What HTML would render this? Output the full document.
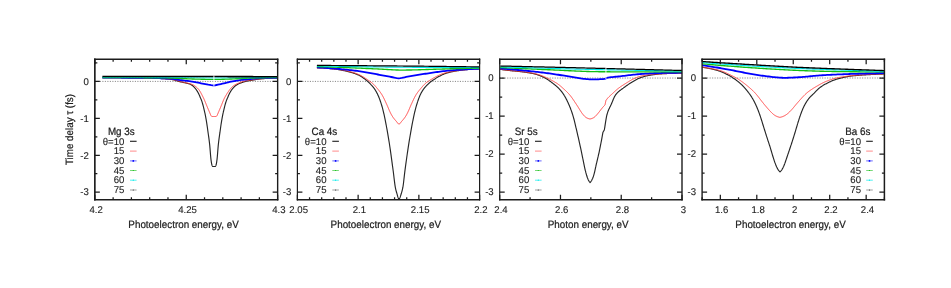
<!DOCTYPE html>
<html>
<head>
<meta charset="utf-8">
<title>Time delay vs energy</title>
<style>
html,body{margin:0;padding:0;background:#ffffff;}
body{width:951px;height:288px;overflow:hidden;font-family:"Liberation Sans",sans-serif;}
svg{display:block;position:absolute;left:0;top:0;will-change:opacity;}
svg text{text-rendering:geometricPrecision;stroke:#1c1c1c;stroke-width:0.12px;}
svg text.b{stroke-width:0.22px;}
</style>
</head>
<body>
<svg width="951" height="288" viewBox="0 0 951 288" font-family="'Liberation Sans', sans-serif" font-size="9.8" fill="#1c1c1c">
<defs>
<clipPath id="p1"><rect x="94.85" y="59.25" width="182.8" height="140.45"/></clipPath>
<clipPath id="p2"><rect x="297.4" y="59.25" width="182.2" height="140.45"/></clipPath>
<clipPath id="p3"><rect x="499.7" y="59.25" width="182.3" height="140.45"/></clipPath>
<clipPath id="p4"><rect x="702.1" y="59.25" width="182.3" height="140.45"/></clipPath>
</defs>
<line x1="94.85" y1="81.4" x2="277.65" y2="81.4" stroke="#7a7a7a" stroke-width="0.9" stroke-dasharray="1.1 1.4"/>
<path d="M102.4 77.7 L102.9 77.7 L103.4 77.7 L103.9 77.7 L104.4 77.7 L104.9 77.7 L105.4 77.7 L105.9 77.7 L106.4 77.7 L106.9 77.7 L107.4 77.7 L107.9 77.71 L108.4 77.71 L108.9 77.71 L109.4 77.71 L109.9 77.71 L110.4 77.71 L110.9 77.71 L111.4 77.71 L111.9 77.72 L112.4 77.72 L112.9 77.72 L113.4 77.72 L113.9 77.72 L114.4 77.72 L114.9 77.73 L115.4 77.73 L115.9 77.73 L116.4 77.73 L116.9 77.73 L117.4 77.74 L117.9 77.74 L118.4 77.74 L118.9 77.74 L119.4 77.75 L119.9 77.75 L120.4 77.75 L120.9 77.75 L121.4 77.76 L121.9 77.76 L122.4 77.76 L122.9 77.77 L123.4 77.77 L123.9 77.77 L124.4 77.78 L124.9 77.78 L125.4 77.78 L125.9 77.79 L126.4 77.79 L126.9 77.79 L127.4 77.8 L127.9 77.8 L128.4 77.8 L128.9 77.81 L129.4 77.81 L129.9 77.81 L130.4 77.82 L130.9 77.82 L131.4 77.83 L131.9 77.83 L132.4 77.83 L132.9 77.84 L133.4 77.84 L133.9 77.85 L134.4 77.85 L134.9 77.85 L135.4 77.86 L135.9 77.86 L136.4 77.87 L136.9 77.87 L137.4 77.88 L137.9 77.88 L138.4 77.89 L138.9 77.89 L139.4 77.89 L139.9 77.9 L140.4 77.9 L140.9 77.91 L141.4 77.92 L141.9 77.92 L142.4 77.93 L142.9 77.94 L143.4 77.94 L143.9 77.95 L144.4 77.96 L144.9 77.97 L145.4 77.98 L145.9 77.99 L146.4 78 L146.9 78.01 L147.4 78.02 L147.9 78.03 L148.4 78.04 L148.9 78.06 L149.4 78.07 L149.9 78.08 L150.4 78.1 L150.9 78.11 L151.4 78.12 L151.9 78.14 L152.4 78.15 L152.9 78.17 L153.4 78.18 L153.9 78.2 L154.4 78.21 L154.9 78.23 L155.4 78.25 L155.9 78.27 L156.4 78.29 L156.9 78.32 L157.4 78.34 L157.9 78.37 L158.4 78.39 L158.9 78.42 L159.4 78.45 L159.9 78.48 L160.4 78.51 L160.9 78.53 L161.4 78.56 L161.89 78.59 L162.39 78.62 L162.89 78.65 L163.39 78.68 L163.89 78.71 L164.39 78.74 L164.89 78.77 L165.39 78.81 L165.89 78.84 L166.39 78.88 L166.88 78.91 L167.38 78.95 L167.88 78.99 L168.38 79.04 L168.88 79.09 L169.37 79.14 L169.87 79.19 L170.37 79.26 L170.86 79.33 L171.36 79.41 L171.85 79.49 L172.34 79.59 L172.83 79.69 L173.32 79.8 L173.8 79.91 L174.29 80.03 L174.77 80.15 L175.25 80.29 L175.73 80.44 L176.21 80.59 L176.68 80.75 L177.15 80.92 L177.63 81.07 L178.11 81.21 L178.59 81.35 L179.07 81.47 L179.56 81.59 L180.04 81.71 L180.53 81.82 L181.02 81.93 L181.51 82.03 L182 82.14 L182.49 82.25 L182.97 82.36 L183.46 82.47 L183.95 82.59 L184.43 82.7 L184.92 82.81 L185.41 82.92 L185.9 83.03 L186.38 83.14 L186.87 83.25 L187.36 83.37 L187.84 83.49 L188.33 83.62 L188.81 83.76 L189.28 83.91 L189.75 84.07 L190.22 84.25 L190.68 84.45 L191.12 84.68 L191.55 84.93 L191.96 85.21 L192.36 85.51 L192.75 85.82 L193.12 86.15 L193.48 86.5 L193.84 86.85 L194.19 87.21 L194.53 87.57 L194.86 87.94 L195.19 88.32 L195.51 88.7 L195.83 89.09 L196.13 89.49 L196.42 89.9 L196.7 90.31 L196.97 90.73 L197.23 91.16 L197.48 91.59 L197.73 92.02 L197.98 92.46 L198.22 92.9 L198.45 93.34 L198.68 93.78 L198.9 94.23 L199.11 94.69 L199.31 95.14 L199.51 95.6 L199.7 96.06 L199.89 96.53 L200.08 96.99 L200.27 97.45 L200.47 97.91 L200.67 98.37 L200.88 98.82 L201.08 99.28 L201.28 99.74 L201.46 100.2 L201.63 100.67 L201.8 101.14 L201.96 101.62 L202.11 102.1 L202.26 102.57 L202.4 103.05 L202.54 103.53 L202.67 104.01 L202.81 104.5 L202.94 104.98 L203.07 105.46 L203.19 105.94 L203.32 106.43 L203.44 106.91 L203.57 107.4 L203.69 107.88 L203.81 108.37 L203.92 108.86 L204.04 109.34 L204.16 109.83 L204.27 110.31 L204.39 110.8 L204.5 111.29 L204.61 111.78 L204.72 112.27 L204.82 112.75 L204.93 113.24 L205.03 113.73 L205.13 114.22 L205.23 114.71 L205.33 115.2 L205.43 115.69 L205.52 116.18 L205.62 116.67 L205.71 117.17 L205.8 117.66 L205.89 118.15 L205.98 118.64 L206.07 119.13 L206.16 119.63 L206.25 120.12 L206.33 120.61 L206.42 121.1 L206.5 121.6 L206.58 122.09 L206.66 122.58 L206.73 123.08 L206.81 123.57 L206.88 124.07 L206.96 124.56 L207.03 125.06 L207.1 125.55 L207.17 126.05 L207.24 126.54 L207.31 127.04 L207.38 127.53 L207.45 128.03 L207.52 128.52 L207.59 129.02 L207.66 129.51 L207.72 130.01 L207.79 130.5 L207.86 131 L207.93 131.49 L208 131.99 L208.07 132.49 L208.14 132.98 L208.21 133.48 L208.28 133.97 L208.35 134.47 L208.42 134.96 L208.49 135.46 L208.56 135.95 L208.63 136.45 L208.7 136.94 L208.77 137.44 L208.84 137.93 L208.91 138.43 L208.97 138.92 L209.04 139.42 L209.1 139.91 L209.17 140.41 L209.23 140.91 L209.29 141.4 L209.35 141.9 L209.41 142.4 L209.47 142.89 L209.53 143.39 L209.58 143.89 L209.64 144.38 L209.69 144.88 L209.74 145.38 L209.79 145.88 L209.83 146.37 L209.88 146.87 L209.92 147.37 L209.96 147.87 L210.01 148.37 L210.05 148.86 L210.09 149.36 L210.13 149.86 L210.17 150.36 L210.21 150.86 L210.25 151.36 L210.29 151.86 L210.33 152.35 L210.37 152.85 L210.41 153.35 L210.45 153.85 L210.49 154.35 L210.53 154.85 L210.57 155.34 L210.62 155.84 L210.66 156.34 L210.71 156.84 L210.75 157.34 L210.8 157.83 L210.85 158.33 L210.91 158.83 L210.97 159.33 L211.03 159.82 L211.1 160.32 L211.17 160.81 L211.24 161.31 L211.31 161.8 L211.39 162.3 L211.47 162.79 L211.56 163.28 L211.65 163.77 L211.75 164.26 L211.87 164.74 L212.02 165.22 L212.21 165.67 L212.44 166.09 L212.7 166.5 L213.22 166.5 L213.74 166.5 L214.26 166.5 L214.78 166.5 L215.3 166.5 L215.56 166.09 L215.79 165.67 L215.98 165.21 L216.13 164.74 L216.25 164.26 L216.35 163.77 L216.44 163.28 L216.53 162.79 L216.61 162.29 L216.69 161.8 L216.76 161.3 L216.83 160.81 L216.9 160.31 L216.97 159.82 L217.03 159.32 L217.09 158.82 L217.15 158.33 L217.2 157.83 L217.25 157.33 L217.3 156.83 L217.34 156.33 L217.39 155.83 L217.43 155.34 L217.47 154.84 L217.51 154.34 L217.55 153.84 L217.59 153.34 L217.63 152.84 L217.67 152.34 L217.71 151.84 L217.75 151.35 L217.79 150.85 L217.83 150.35 L217.87 149.85 L217.91 149.35 L217.95 148.85 L218 148.35 L218.04 147.85 L218.08 147.36 L218.12 146.86 L218.17 146.36 L218.21 145.86 L218.26 145.36 L218.31 144.86 L218.36 144.37 L218.42 143.87 L218.47 143.37 L218.53 142.87 L218.59 142.38 L218.65 141.88 L218.71 141.38 L218.77 140.89 L218.83 140.39 L218.9 139.9 L218.96 139.4 L219.03 138.9 L219.1 138.41 L219.16 137.91 L219.23 137.42 L219.3 136.92 L219.37 136.42 L219.44 135.93 L219.51 135.43 L219.58 134.94 L219.65 134.44 L219.72 133.95 L219.79 133.45 L219.87 132.96 L219.93 132.46 L220 131.96 L220.07 131.47 L220.14 130.97 L220.21 130.48 L220.28 129.98 L220.35 129.49 L220.42 128.99 L220.48 128.5 L220.55 128 L220.62 127.5 L220.69 127.01 L220.76 126.51 L220.83 126.02 L220.9 125.52 L220.97 125.03 L221.05 124.53 L221.12 124.04 L221.19 123.54 L221.27 123.05 L221.35 122.55 L221.43 122.06 L221.51 121.56 L221.59 121.07 L221.67 120.58 L221.76 120.08 L221.85 119.59 L221.93 119.1 L222.02 118.61 L222.11 118.11 L222.2 117.62 L222.3 117.13 L222.39 116.64 L222.49 116.15 L222.58 115.66 L222.68 115.17 L222.78 114.67 L222.88 114.18 L222.98 113.69 L223.08 113.2 L223.19 112.72 L223.29 112.23 L223.4 111.74 L223.51 111.25 L223.62 110.76 L223.74 110.27 L223.85 109.79 L223.97 109.3 L224.09 108.81 L224.2 108.33 L224.32 107.84 L224.45 107.36 L224.57 106.87 L224.69 106.39 L224.82 105.9 L224.94 105.42 L225.07 104.93 L225.2 104.45 L225.34 103.97 L225.47 103.49 L225.61 103.01 L225.76 102.53 L225.91 102.05 L226.06 101.57 L226.22 101.1 L226.38 100.63 L226.56 100.16 L226.74 99.69 L226.94 99.23 L227.14 98.78 L227.35 98.32 L227.55 97.86 L227.75 97.4 L227.94 96.94 L228.13 96.48 L228.32 96.02 L228.51 95.55 L228.71 95.09 L228.91 94.64 L229.13 94.18 L229.35 93.74 L229.58 93.29 L229.81 92.85 L230.06 92.41 L230.3 91.98 L230.56 91.55 L230.82 91.12 L231.08 90.7 L231.36 90.28 L231.65 89.87 L231.95 89.47 L232.26 89.08 L232.58 88.69 L232.9 88.31 L233.23 87.94 L233.57 87.57 L233.92 87.21 L234.27 86.85 L234.63 86.51 L234.99 86.17 L235.37 85.84 L235.76 85.52 L236.15 85.21 L236.56 84.92 L236.98 84.65 L237.41 84.4 L237.85 84.17 L238.3 83.95 L238.76 83.75 L239.22 83.56 L239.69 83.38 L240.16 83.21 L240.63 83.03 L241.1 82.86 L241.57 82.7 L242.04 82.53 L242.51 82.36 L242.99 82.2 L243.46 82.04 L243.94 81.89 L244.42 81.75 L244.9 81.62 L245.38 81.49 L245.87 81.37 L246.36 81.26 L246.84 81.15 L247.33 81.05 L247.83 80.95 L248.32 80.85 L248.81 80.76 L249.3 80.67 L249.79 80.58 L250.29 80.5 L250.78 80.41 L251.27 80.32 L251.77 80.24 L252.26 80.16 L252.75 80.07 L253.24 79.99 L253.74 79.9 L254.23 79.82 L254.72 79.73 L255.22 79.65 L255.71 79.57 L256.21 79.49 L256.7 79.41 L257.19 79.33 L257.69 79.26 L258.18 79.19 L258.68 79.12 L259.18 79.06 L259.67 79 L260.17 78.94 L260.67 78.89 L261.17 78.83 L261.66 78.79 L262.16 78.74 L262.66 78.69 L263.16 78.65 L263.66 78.6 L264.16 78.56 L264.66 78.52 L265.15 78.49 L265.65 78.45 L266.15 78.42 L266.65 78.38 L267.15 78.35 L267.65 78.32 L268.15 78.29 L268.65 78.27 L269.15 78.24 L269.65 78.21 L270.15 78.19 L270.65 78.16 L271.15 78.14 L271.65 78.11 L272.15 78.09 L272.65 78.07 L273.15 78.04 L273.65 78.02 L274.15 78 L274.65 77.99 L275.15 77.97 L275.65 77.95 L276.15 77.94 L276.65 77.92 L277.15 77.91 L277.65 77.9" fill="none" stroke="#262626" stroke-width="1.15" stroke-linejoin="round" clip-path="url(#p1)" />
<path d="M102.4 77.7 L102.9 77.7 L103.4 77.7 L103.9 77.7 L104.4 77.7 L104.9 77.7 L105.4 77.7 L105.9 77.7 L106.4 77.7 L106.9 77.7 L107.4 77.7 L107.9 77.71 L108.4 77.71 L108.9 77.71 L109.4 77.71 L109.9 77.71 L110.4 77.71 L110.9 77.71 L111.4 77.71 L111.9 77.72 L112.4 77.72 L112.9 77.72 L113.4 77.72 L113.9 77.72 L114.4 77.72 L114.9 77.73 L115.4 77.73 L115.9 77.73 L116.4 77.73 L116.9 77.73 L117.4 77.74 L117.9 77.74 L118.4 77.74 L118.9 77.74 L119.4 77.75 L119.89 77.75 L120.39 77.75 L120.89 77.75 L121.39 77.76 L121.89 77.76 L122.39 77.76 L122.89 77.77 L123.39 77.77 L123.89 77.77 L124.39 77.78 L124.89 77.78 L125.39 77.78 L125.89 77.79 L126.39 77.79 L126.89 77.79 L127.39 77.8 L127.89 77.8 L128.39 77.8 L128.89 77.81 L129.39 77.81 L129.89 77.81 L130.39 77.82 L130.89 77.82 L131.39 77.83 L131.89 77.83 L132.39 77.83 L132.89 77.84 L133.39 77.84 L133.89 77.85 L134.39 77.85 L134.89 77.85 L135.39 77.86 L135.89 77.86 L136.39 77.87 L136.89 77.87 L137.39 77.88 L137.89 77.88 L138.39 77.89 L138.89 77.89 L139.39 77.89 L139.89 77.9 L140.39 77.9 L140.89 77.91 L141.39 77.92 L141.89 77.92 L142.39 77.93 L142.89 77.94 L143.39 77.94 L143.89 77.95 L144.39 77.96 L144.89 77.97 L145.39 77.98 L145.89 77.99 L146.39 78 L146.89 78.01 L147.39 78.02 L147.89 78.03 L148.38 78.04 L148.88 78.06 L149.38 78.07 L149.88 78.08 L150.38 78.1 L150.88 78.11 L151.38 78.12 L151.88 78.14 L152.38 78.15 L152.88 78.17 L153.38 78.18 L153.88 78.2 L154.38 78.21 L154.88 78.23 L155.38 78.25 L155.88 78.27 L156.38 78.29 L156.88 78.32 L157.38 78.34 L157.88 78.37 L158.38 78.39 L158.87 78.42 L159.37 78.45 L159.87 78.48 L160.37 78.5 L160.87 78.53 L161.37 78.56 L161.87 78.59 L162.37 78.62 L162.87 78.65 L163.37 78.68 L163.86 78.71 L164.36 78.74 L164.86 78.78 L165.36 78.81 L165.86 78.84 L166.36 78.88 L166.86 78.92 L167.36 78.96 L167.85 79 L168.35 79.04 L168.85 79.09 L169.35 79.14 L169.84 79.19 L170.34 79.25 L170.84 79.31 L171.33 79.38 L171.82 79.46 L172.32 79.55 L172.81 79.64 L173.3 79.73 L173.79 79.83 L174.28 79.93 L174.77 80.04 L175.25 80.15 L175.74 80.27 L176.22 80.4 L176.7 80.53 L177.18 80.67 L177.66 80.81 L178.14 80.95 L178.62 81.09 L179.11 81.22 L179.59 81.34 L180.07 81.46 L180.56 81.58 L181.05 81.69 L181.53 81.8 L182.02 81.92 L182.51 82.03 L183 82.14 L183.48 82.25 L183.97 82.36 L184.46 82.47 L184.95 82.59 L185.43 82.7 L185.92 82.81 L186.41 82.92 L186.9 83.03 L187.38 83.13 L187.87 83.24 L188.36 83.35 L188.85 83.47 L189.33 83.59 L189.81 83.72 L190.29 83.85 L190.77 83.99 L191.25 84.15 L191.72 84.32 L192.18 84.5 L192.64 84.7 L193.09 84.91 L193.53 85.14 L193.97 85.39 L194.39 85.65 L194.81 85.93 L195.22 86.21 L195.62 86.51 L196.01 86.82 L196.4 87.14 L196.77 87.46 L197.15 87.8 L197.51 88.14 L197.86 88.49 L198.2 88.86 L198.53 89.23 L198.84 89.62 L199.14 90.02 L199.43 90.43 L199.7 90.85 L199.97 91.27 L200.22 91.7 L200.48 92.13 L200.72 92.57 L200.96 93.01 L201.2 93.45 L201.43 93.89 L201.66 94.33 L201.89 94.78 L202.12 95.22 L202.34 95.67 L202.56 96.12 L202.79 96.56 L203.01 97.01 L203.23 97.46 L203.45 97.91 L203.67 98.36 L203.88 98.81 L204.09 99.26 L204.29 99.72 L204.49 100.18 L204.69 100.64 L204.88 101.1 L205.07 101.56 L205.26 102.02 L205.45 102.49 L205.64 102.95 L205.83 103.41 L206.01 103.88 L206.2 104.34 L206.39 104.8 L206.58 105.27 L206.77 105.73 L206.96 106.19 L207.16 106.65 L207.35 107.11 L207.54 107.57 L207.74 108.03 L207.93 108.49 L208.13 108.95 L208.32 109.41 L208.52 109.87 L208.71 110.33 L208.91 110.79 L209.1 111.25 L209.3 111.71 L209.5 112.17 L209.69 112.63 L209.89 113.09 L210.08 113.55 L210.27 114.02 L210.46 114.48 L210.66 114.93 L210.89 115.37 L211.16 115.78 L211.46 116.15 L211.8 116.5 L212.29 116.5 L212.78 116.5 L213.27 116.5 L213.76 116.5 L214.24 116.5 L214.73 116.5 L215.22 116.5 L215.71 116.5 L216.2 116.5 L216.54 116.15 L216.84 115.78 L217.11 115.37 L217.34 114.93 L217.54 114.48 L217.73 114.01 L217.92 113.55 L218.11 113.09 L218.31 112.63 L218.5 112.17 L218.7 111.71 L218.9 111.25 L219.09 110.79 L219.29 110.33 L219.49 109.87 L219.68 109.41 L219.87 108.95 L220.07 108.49 L220.26 108.03 L220.46 107.57 L220.65 107.1 L220.85 106.64 L221.04 106.18 L221.23 105.72 L221.42 105.26 L221.61 104.79 L221.8 104.33 L221.98 103.87 L222.17 103.4 L222.35 102.94 L222.54 102.47 L222.73 102.01 L222.92 101.55 L223.11 101.08 L223.3 100.62 L223.5 100.16 L223.7 99.7 L223.91 99.25 L224.12 98.8 L224.34 98.35 L224.56 97.9 L224.79 97.46 L225.03 97.02 L225.27 96.58 L225.51 96.14 L225.76 95.71 L226.01 95.27 L226.26 94.84 L226.52 94.41 L226.79 93.99 L227.05 93.57 L227.32 93.14 L227.6 92.73 L227.87 92.31 L228.15 91.9 L228.44 91.48 L228.73 91.08 L229.02 90.67 L229.31 90.26 L229.61 89.86 L229.91 89.46 L230.21 89.06 L230.52 88.67 L230.83 88.28 L231.16 87.9 L231.5 87.53 L231.85 87.18 L232.22 86.84 L232.6 86.52 L232.99 86.21 L233.39 85.91 L233.8 85.62 L234.21 85.35 L234.64 85.08 L235.07 84.83 L235.5 84.58 L235.94 84.35 L236.39 84.12 L236.84 83.91 L237.3 83.7 L237.76 83.51 L238.22 83.32 L238.68 83.13 L239.15 82.94 L239.61 82.75 L240.07 82.55 L240.53 82.36 L240.99 82.17 L241.46 81.98 L241.92 81.8 L242.4 81.64 L242.88 81.5 L243.36 81.37 L243.84 81.26 L244.33 81.15 L244.82 81.05 L245.31 80.95 L245.8 80.86 L246.3 80.77 L246.79 80.69 L247.28 80.61 L247.78 80.53 L248.27 80.46 L248.77 80.38 L249.26 80.31 L249.76 80.24 L250.25 80.16 L250.75 80.09 L251.24 80.02 L251.74 79.95 L252.23 79.88 L252.73 79.81 L253.22 79.74 L253.72 79.68 L254.22 79.61 L254.71 79.55 L255.21 79.49 L255.7 79.43 L256.2 79.37 L256.7 79.31 L257.19 79.25 L257.69 79.19 L258.19 79.14 L258.69 79.09 L259.18 79.03 L259.68 78.98 L260.18 78.93 L260.68 78.88 L261.17 78.84 L261.67 78.79 L262.17 78.74 L262.67 78.7 L263.17 78.66 L263.66 78.61 L264.16 78.57 L264.66 78.53 L265.16 78.49 L265.66 78.45 L266.16 78.42 L266.66 78.38 L267.16 78.35 L267.66 78.32 L268.16 78.29 L268.65 78.26 L269.15 78.24 L269.65 78.21 L270.15 78.19 L270.65 78.16 L271.15 78.14 L271.65 78.11 L272.15 78.09 L272.65 78.07 L273.15 78.04 L273.65 78.02 L274.15 78 L274.65 77.99 L275.15 77.97 L275.65 77.95 L276.15 77.94 L276.65 77.92 L277.15 77.91 L277.65 77.9" fill="none" stroke="#ff3b3b" stroke-width="0.95" stroke-linejoin="round" clip-path="url(#p1)" />
<path d="M102.4 77.7 L103.9 77.7 L105.4 77.7 L106.9 77.7 L108.4 77.7 L109.89 77.7 L111.39 77.71 L112.89 77.71 L114.39 77.71 L115.89 77.71 L117.39 77.72 L118.89 77.72 L120.39 77.72 L121.89 77.73 L123.38 77.73 L124.88 77.74 L126.38 77.74 L127.88 77.75 L129.38 77.75 L130.88 77.76 L132.38 77.77 L133.88 77.77 L135.38 77.78 L136.87 77.79 L138.37 77.79 L139.87 77.8 L141.37 77.81 L142.87 77.82 L144.37 77.84 L145.87 77.86 L147.37 77.88 L148.86 77.9 L150.36 77.93 L151.86 77.96 L153.36 77.99 L154.86 78.03 L156.36 78.08 L157.85 78.13 L159.35 78.19 L160.85 78.25 L162.35 78.31 L163.84 78.38 L165.34 78.45 L166.84 78.52 L168.34 78.6 L169.83 78.69 L171.33 78.81 L172.82 78.95 L174.3 79.13 L175.78 79.35 L177.26 79.58 L178.74 79.82 L180.22 80.04 L181.71 80.24 L183.2 80.42 L184.69 80.59 L186.17 80.77 L187.66 80.94 L189.15 81.13 L190.63 81.33 L192.12 81.55 L193.59 81.8 L195.07 82.07 L196.54 82.35 L198.01 82.65 L199.48 82.96 L200.94 83.27 L202.41 83.57 L203.88 83.87 L205.35 84.16 L206.82 84.43 L208.3 84.69 L209.78 84.91 L211.26 85.11 L212.75 85.27 L213 85.3 L214.5 85.3 L215 85.3 L216.47 85 L217.94 84.7 L219.41 84.39 L220.87 84.07 L222.34 83.73 L223.8 83.38 L225.25 83.02 L226.71 82.66 L228.17 82.3 L229.63 81.96 L231.1 81.63 L232.57 81.33 L234.04 81.04 L235.52 80.78 L237 80.54 L238.48 80.32 L239.97 80.11 L241.46 79.93 L242.95 79.77 L244.45 79.62 L245.94 79.48 L247.44 79.33 L248.93 79.17 L250.42 79 L251.91 78.84 L253.41 78.68 L254.9 78.53 L256.39 78.39 L257.89 78.27 L259.39 78.16 L260.89 78.08 L262.39 78.01 L263.89 77.97 L265.39 77.93 L266.89 77.9 L268.39 77.88 L269.89 77.86 L271.39 77.84 L272.9 77.83 L274.4 77.81 L275.9 77.81 L277.4 77.8 L277.65 77.8" fill="none" stroke="#0000ff" stroke-width="1.8" stroke-linejoin="round" clip-path="url(#p1)" />
<path d="M102.4 77.6 L103.9 77.6 L105.4 77.6 L106.9 77.6 L108.4 77.6 L109.9 77.6 L111.4 77.61 L112.9 77.61 L114.4 77.61 L115.9 77.61 L117.41 77.61 L118.91 77.62 L120.41 77.62 L121.91 77.62 L123.41 77.63 L124.91 77.63 L126.41 77.63 L127.91 77.64 L129.41 77.64 L130.91 77.65 L132.41 77.65 L133.91 77.66 L135.41 77.66 L136.91 77.67 L138.41 77.68 L139.91 77.68 L141.41 77.69 L142.91 77.7 L144.41 77.71 L145.92 77.71 L147.42 77.72 L148.92 77.73 L150.42 77.74 L151.92 77.75 L153.42 77.76 L154.92 77.77 L156.42 77.78 L157.92 77.79 L159.42 77.8 L160.92 77.82 L162.42 77.84 L163.92 77.86 L165.42 77.89 L166.92 77.93 L168.42 77.97 L169.92 78.01 L171.42 78.06 L172.92 78.1 L174.42 78.16 L175.92 78.22 L177.42 78.29 L178.92 78.36 L180.42 78.44 L181.91 78.52 L183.41 78.59 L184.91 78.67 L186.41 78.74 L187.91 78.81 L189.41 78.87 L190.91 78.93 L192.41 78.98 L193.91 79.03 L195.41 79.07 L196.91 79.11 L198.41 79.16 L199.91 79.19 L201.41 79.23 L202.91 79.26 L204.41 79.29 L205.91 79.31 L207.41 79.33 L208.91 79.35 L210.41 79.37 L211.91 79.38 L213.41 79.39 L214.91 79.38 L216.41 79.37 L217.91 79.35 L219.41 79.33 L220.91 79.3 L222.41 79.26 L223.91 79.22 L225.41 79.18 L226.91 79.14 L228.41 79.09 L229.91 79.04 L231.41 78.98 L232.91 78.92 L234.41 78.85 L235.91 78.79 L237.41 78.72 L238.91 78.65 L240.4 78.58 L241.9 78.5 L243.4 78.42 L244.9 78.35 L246.4 78.27 L247.9 78.2 L249.4 78.13 L250.9 78.07 L252.4 78.02 L253.9 77.97 L255.4 77.92 L256.9 77.88 L258.4 77.84 L259.9 77.8 L261.4 77.77 L262.9 77.74 L264.4 77.71 L265.9 77.69 L267.4 77.67 L268.9 77.66 L270.4 77.64 L271.9 77.63 L273.4 77.62 L274.9 77.61 L276.4 77.6 L277.65 77.6" fill="none" stroke="#14be14" stroke-width="1.35" stroke-linejoin="round" clip-path="url(#p1)" />
<path d="M102.4 77.3 L103.9 77.3 L105.4 77.3 L106.9 77.3 L108.4 77.3 L109.9 77.3 L111.4 77.3 L112.9 77.3 L114.4 77.31 L115.9 77.31 L117.4 77.31 L118.9 77.31 L120.4 77.31 L121.9 77.31 L123.4 77.32 L124.9 77.32 L126.4 77.32 L127.9 77.32 L129.4 77.33 L130.9 77.33 L132.4 77.33 L133.9 77.34 L135.4 77.34 L136.9 77.34 L138.4 77.35 L139.9 77.35 L141.4 77.36 L142.9 77.36 L144.4 77.36 L145.9 77.37 L147.4 77.37 L148.9 77.38 L150.4 77.38 L151.9 77.39 L153.4 77.39 L154.9 77.4 L156.4 77.4 L157.9 77.41 L159.4 77.41 L160.9 77.42 L162.4 77.43 L163.9 77.43 L165.4 77.44 L166.9 77.44 L168.4 77.45 L169.9 77.46 L171.4 77.46 L172.9 77.47 L174.4 77.47 L175.9 77.48 L177.4 77.49 L178.9 77.5 L180.4 77.5 L181.9 77.52 L183.4 77.53 L184.9 77.54 L186.4 77.56 L187.9 77.58 L189.4 77.6 L190.9 77.62 L192.4 77.64 L193.9 77.67 L195.4 77.69 L196.9 77.72 L198.4 77.74 L199.9 77.77 L201.4 77.79 L202.9 77.81 L204.4 77.83 L205.9 77.85 L207.4 77.86 L208.9 77.87 L210.4 77.88 L211.9 77.89 L213.4 77.9 L214.9 77.9 L216.4 77.89 L217.9 77.89 L219.4 77.88 L220.9 77.88 L222.4 77.87 L223.9 77.86 L225.4 77.85 L226.9 77.83 L228.4 77.82 L229.9 77.81 L231.4 77.79 L232.9 77.77 L234.4 77.76 L235.9 77.74 L237.4 77.73 L238.9 77.71 L240.4 77.69 L241.9 77.68 L243.4 77.66 L244.9 77.65 L246.4 77.63 L247.9 77.62 L249.4 77.61 L250.9 77.59 L252.4 77.58 L253.9 77.57 L255.4 77.56 L256.9 77.55 L258.4 77.54 L259.9 77.53 L261.4 77.51 L262.9 77.5 L264.4 77.49 L265.9 77.48 L267.4 77.47 L268.9 77.46 L270.4 77.45 L271.9 77.44 L273.4 77.43 L274.9 77.42 L276.4 77.41 L277.65 77.4" fill="none" stroke="#00e8ee" stroke-width="0.9" stroke-linejoin="round" clip-path="url(#p1)" />
<path d="M102.4 76.5 L103.9 76.5 L105.4 76.5 L106.9 76.5 L108.4 76.5 L109.9 76.5 L111.4 76.5 L112.9 76.5 L114.4 76.5 L115.9 76.5 L117.4 76.5 L118.9 76.5 L120.4 76.5 L121.9 76.5 L123.4 76.5 L124.9 76.5 L126.4 76.5 L127.9 76.5 L129.4 76.5 L130.9 76.5 L132.4 76.5 L133.9 76.5 L135.4 76.5 L136.9 76.51 L138.4 76.51 L139.9 76.51 L141.4 76.51 L142.9 76.51 L144.4 76.51 L145.9 76.51 L147.4 76.51 L148.9 76.51 L150.4 76.51 L151.9 76.51 L153.4 76.51 L154.9 76.51 L156.4 76.51 L157.9 76.51 L159.4 76.51 L160.9 76.51 L162.4 76.51 L163.9 76.52 L165.4 76.52 L166.9 76.52 L168.4 76.52 L169.9 76.52 L171.4 76.52 L172.9 76.52 L174.4 76.52 L175.9 76.52 L177.4 76.52 L178.9 76.52 L180.4 76.52 L181.9 76.53 L183.4 76.53 L184.9 76.53 L186.4 76.53 L187.9 76.53 L189.4 76.53 L190.9 76.53 L192.4 76.53 L193.9 76.53 L195.4 76.54 L196.9 76.54 L198.4 76.54 L199.9 76.54 L201.4 76.54 L202.9 76.54 L204.4 76.54 L205.9 76.54 L207.4 76.54 L208.9 76.55 L210.4 76.55 L211.9 76.55 L213.4 76.55 L214.9 76.55 L216.4 76.55 L217.9 76.55 L219.4 76.56 L220.9 76.56 L222.4 76.56 L223.9 76.57 L225.4 76.57 L226.9 76.57 L228.4 76.58 L229.9 76.58 L231.4 76.59 L232.9 76.59 L234.4 76.6 L235.9 76.6 L237.4 76.61 L238.9 76.61 L240.4 76.62 L241.9 76.62 L243.4 76.63 L244.9 76.64 L246.4 76.64 L247.9 76.65 L249.4 76.66 L250.9 76.66 L252.4 76.67 L253.9 76.68 L255.4 76.69 L256.9 76.69 L258.4 76.7 L259.9 76.71 L261.4 76.72 L262.9 76.72 L264.4 76.73 L265.9 76.74 L267.4 76.75 L268.9 76.75 L270.4 76.76 L271.9 76.77 L273.4 76.78 L274.9 76.79 L276.4 76.79 L277.65 76.8" fill="none" stroke="#000000" stroke-width="1.6" stroke-linejoin="round" clip-path="url(#p1)" />
<line x1="213.9" y1="75.5" x2="213.9" y2="85.9" stroke="#fff" stroke-width="1.2" stroke-opacity="0.72"/>
<path d="M94.85 199.7 v-5 M94.85 59.25 v5 M113.13 199.7 v-2.5 M113.13 59.25 v2.5 M131.41 199.7 v-2.5 M131.41 59.25 v2.5 M149.69 199.7 v-2.5 M149.69 59.25 v2.5 M167.97 199.7 v-2.5 M167.97 59.25 v2.5 M186.25 199.7 v-5 M186.25 59.25 v5 M204.53 199.7 v-2.5 M204.53 59.25 v2.5 M222.81 199.7 v-2.5 M222.81 59.25 v2.5 M241.09 199.7 v-2.5 M241.09 59.25 v2.5 M259.37 199.7 v-2.5 M259.37 59.25 v2.5 M277.65 199.7 v-5 M277.65 59.25 v5 M94.85 192.19 h5 M277.65 192.19 h-5 M94.85 173.73 h2.5 M277.65 173.73 h-2.5 M94.85 155.26 h5 M277.65 155.26 h-5 M94.85 136.8 h2.5 M277.65 136.8 h-2.5 M94.85 118.33 h5 M277.65 118.33 h-5 M94.85 99.87 h2.5 M277.65 99.87 h-2.5 M94.85 81.4 h5 M277.65 81.4 h-5 M94.85 62.94 h2.5 M277.65 62.94 h-2.5" stroke="#1c1c1c" stroke-width="1.25" fill="none"/>
<path d="M94.02 59.25 H278.35" stroke="#1c1c1c" stroke-width="1.45" fill="none"/>
<path d="M94.02 199.7 H278.35" stroke="#1c1c1c" stroke-width="1.65" fill="none"/>
<path d="M94.85 58.55 V200.5" stroke="#1c1c1c" stroke-width="1.65" fill="none"/>
<path d="M277.65 58.55 V200.5" stroke="#1c1c1c" stroke-width="1.4" fill="none"/>
<text transform="translate(88.85 84.65) scale(0.98 1)" text-anchor="end">0</text>
<text transform="translate(88.85 121.58) scale(0.98 1)" text-anchor="end">-1</text>
<text transform="translate(88.85 158.51) scale(0.98 1)" text-anchor="end">-2</text>
<text transform="translate(88.85 195.44) scale(0.98 1)" text-anchor="end">-3</text>
<text transform="translate(96.15 213.1) scale(0.98 1)" text-anchor="middle">4.2</text>
<text transform="translate(187.55 213.1) scale(0.98 1)" text-anchor="middle">4.25</text>
<text transform="translate(278.95 213.1) scale(0.98 1)" text-anchor="middle">4.3</text>
<text transform="translate(183.55 227.5) scale(0.93 1)" text-anchor="middle" class="b" font-size="10.6">Photoelectron energy, eV</text>
<text transform="translate(121.3 135.3) scale(0.93 1)" text-anchor="middle" class="b" font-size="10.6">Mg 3s</text>
<text transform="translate(124.4 144.5) scale(0.98 1)" text-anchor="end">θ=10</text>
<line x1="130" y1="141.3" x2="136.6" y2="141.3" stroke="#262626" stroke-width="1.15"/>
<text transform="translate(124.4 154.3) scale(0.98 1)" text-anchor="end">15</text>
<line x1="130" y1="151.1" x2="136.6" y2="151.1" stroke="#ff8a8a" stroke-width="1"/>
<text transform="translate(124.4 164.1) scale(0.98 1)" text-anchor="end">30</text>
<line x1="130" y1="160.9" x2="136.6" y2="160.9" stroke="#5a5aff" stroke-width="0.9"/>
<circle cx="133.3" cy="160.9" r="0.9" fill="#0000ff"/>
<text transform="translate(124.4 173.7) scale(0.98 1)" text-anchor="end">45</text>
<line x1="130" y1="170.5" x2="136.6" y2="170.5" stroke="#40c840" stroke-width="0.7"/>
<circle cx="133.3" cy="170.5" r="0.6" fill="#14be14"/>
<text transform="translate(124.4 183.4) scale(0.98 1)" text-anchor="end">60</text>
<line x1="130" y1="180.2" x2="136.6" y2="180.2" stroke="#40f0f0" stroke-width="0.9"/>
<circle cx="133.3" cy="180.2" r="0.6" fill="#00e8e8"/>
<text transform="translate(124.4 193.2) scale(0.98 1)" text-anchor="end">75</text>
<line x1="130" y1="190" x2="136.6" y2="190" stroke="#777" stroke-width="0.7"/>
<circle cx="133.3" cy="190" r="0.6" fill="#333"/>
<line x1="297.4" y1="81.4" x2="479.6" y2="81.4" stroke="#7a7a7a" stroke-width="0.9" stroke-dasharray="1.1 1.4"/>
<path d="M316.9 67.8 L317.4 67.81 L317.9 67.81 L318.4 67.82 L318.9 67.83 L319.4 67.84 L319.9 67.86 L320.4 67.88 L320.9 67.9 L321.4 67.92 L321.9 67.95 L322.4 67.97 L322.9 68 L323.4 68.03 L323.9 68.07 L324.4 68.1 L324.9 68.14 L325.39 68.18 L325.89 68.22 L326.39 68.26 L326.89 68.3 L327.39 68.35 L327.89 68.39 L328.38 68.44 L328.88 68.49 L329.38 68.54 L329.88 68.59 L330.37 68.64 L330.87 68.7 L331.37 68.75 L331.87 68.81 L332.36 68.86 L332.86 68.92 L333.36 68.97 L333.86 69.03 L334.35 69.09 L334.85 69.15 L335.35 69.2 L335.84 69.26 L336.34 69.32 L336.84 69.38 L337.33 69.45 L337.83 69.51 L338.32 69.58 L338.82 69.66 L339.31 69.74 L339.81 69.82 L340.3 69.9 L340.79 69.99 L341.28 70.09 L341.77 70.18 L342.26 70.28 L342.75 70.38 L343.24 70.49 L343.73 70.59 L344.22 70.7 L344.71 70.81 L345.19 70.93 L345.68 71.04 L346.17 71.16 L346.65 71.27 L347.14 71.39 L347.63 71.51 L348.11 71.63 L348.6 71.75 L349.08 71.88 L349.57 72 L350.05 72.13 L350.53 72.26 L351.02 72.39 L351.5 72.53 L351.98 72.67 L352.46 72.81 L352.94 72.95 L353.41 73.1 L353.89 73.26 L354.36 73.41 L354.84 73.58 L355.31 73.74 L355.78 73.92 L356.25 74.09 L356.71 74.28 L357.17 74.46 L357.64 74.66 L358.09 74.86 L358.55 75.07 L358.99 75.29 L359.44 75.52 L359.88 75.76 L360.31 76 L360.74 76.26 L361.17 76.52 L361.59 76.79 L362.01 77.06 L362.43 77.34 L362.84 77.63 L363.25 77.92 L363.65 78.21 L364.05 78.51 L364.45 78.81 L364.85 79.11 L365.25 79.42 L365.64 79.72 L366.03 80.03 L366.42 80.35 L366.81 80.66 L367.2 80.98 L367.58 81.3 L367.96 81.63 L368.33 81.96 L368.7 82.3 L369.06 82.65 L369.41 83 L369.77 83.35 L370.12 83.71 L370.46 84.07 L370.81 84.43 L371.15 84.8 L371.5 85.16 L371.84 85.53 L372.17 85.9 L372.5 86.28 L372.82 86.66 L373.14 87.04 L373.45 87.44 L373.75 87.83 L374.05 88.24 L374.34 88.64 L374.62 89.06 L374.9 89.47 L375.17 89.89 L375.43 90.32 L375.69 90.75 L375.94 91.18 L376.19 91.61 L376.44 92.05 L376.67 92.49 L376.91 92.93 L377.14 93.38 L377.36 93.82 L377.58 94.27 L377.79 94.73 L378 95.18 L378.21 95.64 L378.41 96.09 L378.6 96.55 L378.8 97.02 L378.98 97.48 L379.17 97.95 L379.35 98.41 L379.52 98.88 L379.7 99.35 L379.87 99.82 L380.04 100.29 L380.2 100.76 L380.37 101.24 L380.53 101.71 L380.69 102.18 L380.85 102.66 L381 103.13 L381.16 103.61 L381.31 104.09 L381.46 104.56 L381.61 105.04 L381.75 105.52 L381.9 106 L382.03 106.48 L382.17 106.96 L382.31 107.44 L382.44 107.92 L382.57 108.41 L382.69 108.89 L382.82 109.38 L382.94 109.86 L383.06 110.35 L383.18 110.83 L383.3 111.32 L383.42 111.8 L383.53 112.29 L383.65 112.78 L383.76 113.27 L383.87 113.75 L383.98 114.24 L384.09 114.73 L384.2 115.22 L384.3 115.71 L384.41 116.2 L384.51 116.68 L384.62 117.17 L384.72 117.66 L384.82 118.15 L384.93 118.64 L385.03 119.13 L385.13 119.62 L385.23 120.11 L385.32 120.6 L385.42 121.1 L385.52 121.59 L385.61 122.08 L385.71 122.57 L385.81 123.06 L385.9 123.55 L385.99 124.04 L386.09 124.53 L386.18 125.02 L386.27 125.52 L386.36 126.01 L386.45 126.5 L386.55 126.99 L386.64 127.48 L386.73 127.98 L386.81 128.47 L386.9 128.96 L386.99 129.45 L387.08 129.95 L387.17 130.44 L387.25 130.93 L387.34 131.42 L387.43 131.92 L387.51 132.41 L387.6 132.9 L387.69 133.4 L387.77 133.89 L387.86 134.38 L387.94 134.87 L388.02 135.37 L388.11 135.86 L388.19 136.35 L388.27 136.85 L388.36 137.34 L388.44 137.83 L388.52 138.33 L388.6 138.82 L388.69 139.31 L388.77 139.81 L388.85 140.3 L388.93 140.8 L389.01 141.29 L389.09 141.78 L389.17 142.28 L389.24 142.77 L389.32 143.27 L389.4 143.76 L389.47 144.25 L389.55 144.75 L389.62 145.24 L389.7 145.74 L389.77 146.23 L389.85 146.73 L389.92 147.22 L389.99 147.72 L390.07 148.21 L390.14 148.71 L390.21 149.2 L390.28 149.7 L390.35 150.19 L390.42 150.69 L390.49 151.18 L390.56 151.68 L390.63 152.17 L390.7 152.67 L390.77 153.17 L390.84 153.66 L390.91 154.16 L390.98 154.65 L391.05 155.15 L391.12 155.64 L391.19 156.14 L391.25 156.63 L391.32 157.13 L391.39 157.63 L391.46 158.12 L391.53 158.62 L391.59 159.11 L391.66 159.61 L391.73 160.1 L391.8 160.6 L391.86 161.1 L391.93 161.59 L392 162.09 L392.06 162.58 L392.13 163.08 L392.2 163.57 L392.26 164.07 L392.33 164.57 L392.4 165.06 L392.46 165.56 L392.53 166.05 L392.6 166.55 L392.67 167.04 L392.73 167.54 L392.8 168.04 L392.87 168.53 L392.93 169.03 L393 169.52 L393.07 170.02 L393.13 170.52 L393.2 171.01 L393.27 171.51 L393.33 172 L393.39 172.5 L393.46 173 L393.52 173.49 L393.58 173.99 L393.64 174.49 L393.7 174.98 L393.76 175.48 L393.82 175.98 L393.88 176.47 L393.94 176.97 L393.99 177.47 L394.05 177.96 L394.11 178.46 L394.17 178.96 L394.23 179.45 L394.29 179.95 L394.35 180.45 L394.41 180.94 L394.47 181.44 L394.53 181.94 L394.59 182.43 L394.66 182.93 L394.72 183.42 L394.79 183.92 L394.86 184.42 L394.93 184.91 L395 185.41 L395.08 185.9 L395.16 186.39 L395.24 186.89 L395.33 187.38 L395.43 187.87 L395.53 188.36 L395.63 188.85 L395.75 189.34 L395.86 189.82 L395.98 190.31 L396.11 190.79 L396.25 191.27 L396.38 191.75 L396.52 192.24 L396.66 192.72 L396.8 193.2 L396.94 193.68 L397.08 194.16 L397.21 194.64 L397.35 195.12 L397.48 195.6 L397.62 196.08 L397.76 196.56 L397.91 197.04 L398.07 197.51 L398.26 197.96 L398.48 198.39 L398.73 198.8 L399 199.2 L399.29 198.82 L399.56 198.42 L399.8 198 L400 197.56 L400.18 197.1 L400.35 196.63 L400.5 196.15 L400.65 195.67 L400.79 195.2 L400.93 194.72 L401.08 194.24 L401.22 193.76 L401.37 193.28 L401.51 192.8 L401.66 192.32 L401.8 191.85 L401.94 191.37 L402.07 190.88 L402.2 190.4 L402.32 189.92 L402.44 189.43 L402.55 188.94 L402.65 188.46 L402.75 187.97 L402.85 187.48 L402.94 186.98 L403.02 186.49 L403.1 186 L403.17 185.5 L403.24 185.01 L403.31 184.51 L403.37 184.02 L403.44 183.52 L403.5 183.03 L403.56 182.53 L403.62 182.03 L403.68 181.54 L403.73 181.04 L403.79 180.54 L403.85 180.05 L403.9 179.55 L403.96 179.05 L404.01 178.56 L404.07 178.06 L404.13 177.56 L404.18 177.07 L404.24 176.57 L404.29 176.07 L404.35 175.58 L404.4 175.08 L404.46 174.58 L404.52 174.09 L404.58 173.59 L404.64 173.1 L404.7 172.6 L404.76 172.1 L404.82 171.61 L404.89 171.11 L404.95 170.62 L405.02 170.12 L405.08 169.63 L405.15 169.13 L405.22 168.64 L405.28 168.14 L405.35 167.64 L405.42 167.15 L405.49 166.65 L405.55 166.16 L405.62 165.66 L405.69 165.17 L405.75 164.67 L405.82 164.18 L405.89 163.68 L405.96 163.19 L406.03 162.69 L406.09 162.2 L406.16 161.7 L406.23 161.21 L406.3 160.71 L406.37 160.22 L406.44 159.72 L406.51 159.23 L406.58 158.73 L406.64 158.24 L406.71 157.74 L406.78 157.25 L406.85 156.75 L406.92 156.26 L406.99 155.76 L407.07 155.27 L407.14 154.77 L407.21 154.28 L407.28 153.78 L407.35 153.29 L407.42 152.8 L407.49 152.3 L407.57 151.81 L407.64 151.31 L407.71 150.82 L407.79 150.32 L407.86 149.83 L407.93 149.33 L408.01 148.84 L408.08 148.35 L408.16 147.85 L408.23 147.36 L408.31 146.86 L408.38 146.37 L408.46 145.88 L408.54 145.38 L408.61 144.89 L408.69 144.39 L408.77 143.9 L408.85 143.41 L408.93 142.91 L409 142.42 L409.08 141.93 L409.16 141.43 L409.25 140.94 L409.33 140.45 L409.41 139.95 L409.49 139.46 L409.57 138.97 L409.66 138.48 L409.74 137.98 L409.82 137.49 L409.9 137 L409.99 136.5 L410.07 136.01 L410.16 135.52 L410.24 135.03 L410.33 134.53 L410.41 134.04 L410.5 133.55 L410.58 133.06 L410.67 132.56 L410.75 132.07 L410.84 131.58 L410.93 131.09 L411.01 130.59 L411.1 130.1 L411.19 129.61 L411.28 129.12 L411.37 128.63 L411.45 128.14 L411.54 127.64 L411.63 127.15 L411.72 126.66 L411.81 126.17 L411.91 125.68 L412 125.19 L412.09 124.69 L412.18 124.2 L412.28 123.71 L412.37 123.22 L412.46 122.73 L412.56 122.24 L412.65 121.75 L412.75 121.26 L412.85 120.77 L412.95 120.28 L413.04 119.79 L413.14 119.3 L413.24 118.81 L413.34 118.32 L413.45 117.83 L413.55 117.34 L413.65 116.85 L413.76 116.36 L413.86 115.88 L413.97 115.39 L414.07 114.9 L414.18 114.41 L414.29 113.92 L414.4 113.44 L414.51 112.95 L414.63 112.46 L414.74 111.98 L414.86 111.49 L414.98 111 L415.1 110.52 L415.22 110.03 L415.34 109.55 L415.46 109.07 L415.59 108.58 L415.72 108.1 L415.85 107.62 L415.98 107.13 L416.12 106.65 L416.26 106.17 L416.4 105.69 L416.54 105.21 L416.68 104.74 L416.83 104.26 L416.98 103.78 L417.13 103.31 L417.28 102.83 L417.43 102.35 L417.59 101.88 L417.74 101.4 L417.9 100.93 L418.06 100.46 L418.22 99.98 L418.39 99.51 L418.56 99.04 L418.73 98.57 L418.9 98.1 L419.08 97.63 L419.26 97.17 L419.44 96.7 L419.63 96.24 L419.83 95.78 L420.03 95.33 L420.24 94.87 L420.45 94.42 L420.68 93.97 L420.9 93.53 L421.13 93.08 L421.37 92.65 L421.62 92.21 L421.87 91.78 L422.12 91.35 L422.38 90.92 L422.65 90.5 L422.92 90.08 L423.2 89.67 L423.48 89.26 L423.78 88.85 L424.08 88.45 L424.38 88.05 L424.69 87.66 L425.01 87.28 L425.34 86.9 L425.67 86.53 L426.01 86.17 L426.36 85.81 L426.71 85.45 L427.06 85.1 L427.42 84.75 L427.78 84.4 L428.14 84.06 L428.51 83.71 L428.87 83.37 L429.24 83.03 L429.61 82.7 L429.98 82.37 L430.37 82.05 L430.76 81.74 L431.15 81.43 L431.56 81.14 L431.97 80.85 L432.38 80.57 L432.79 80.29 L433.21 80.01 L433.63 79.74 L434.04 79.46 L434.46 79.19 L434.88 78.92 L435.31 78.66 L435.73 78.39 L436.15 78.13 L436.58 77.87 L437.01 77.61 L437.44 77.35 L437.87 77.1 L438.3 76.85 L438.74 76.61 L439.18 76.37 L439.62 76.13 L440.06 75.89 L440.5 75.66 L440.95 75.44 L441.39 75.22 L441.84 75 L442.3 74.79 L442.75 74.58 L443.21 74.38 L443.67 74.19 L444.13 74 L444.6 73.81 L445.06 73.64 L445.53 73.47 L446.01 73.31 L446.48 73.15 L446.96 73.01 L447.44 72.87 L447.92 72.73 L448.4 72.61 L448.89 72.48 L449.37 72.36 L449.86 72.25 L450.35 72.13 L450.83 72.02 L451.32 71.91 L451.81 71.81 L452.3 71.71 L452.79 71.6 L453.28 71.51 L453.77 71.41 L454.26 71.31 L454.75 71.22 L455.24 71.13 L455.73 71.05 L456.23 70.96 L456.72 70.88 L457.21 70.8 L457.71 70.72 L458.2 70.64 L458.69 70.57 L459.19 70.5 L459.68 70.43 L460.18 70.36 L460.67 70.29 L461.17 70.23 L461.67 70.17 L462.16 70.11 L462.66 70.05 L463.16 69.99 L463.65 69.94 L464.15 69.89 L464.65 69.84 L465.14 69.79 L465.64 69.74 L466.14 69.69 L466.64 69.64 L467.13 69.6 L467.63 69.55 L468.13 69.51 L468.63 69.46 L469.12 69.42 L469.62 69.38 L470.12 69.34 L470.62 69.29 L471.12 69.25 L471.62 69.22 L472.11 69.18 L472.61 69.14 L473.11 69.11 L473.61 69.07 L474.11 69.04 L474.61 69.01 L475.11 68.98 L475.61 68.96 L476.1 68.93 L476.6 68.91 L477.1 68.88 L477.6 68.86 L478.1 68.85 L478.6 68.83 L479.1 68.81 L479.6 68.8" fill="none" stroke="#262626" stroke-width="1.15" stroke-linejoin="round" clip-path="url(#p2)" />
<path d="M316.9 67.8 L317.4 67.81 L317.9 67.82 L318.4 67.83 L318.9 67.84 L319.4 67.86 L319.9 67.88 L320.4 67.9 L320.9 67.92 L321.4 67.94 L321.9 67.97 L322.4 67.99 L322.9 68.02 L323.4 68.05 L323.9 68.08 L324.4 68.12 L324.9 68.15 L325.4 68.19 L325.9 68.22 L326.4 68.26 L326.89 68.3 L327.39 68.34 L327.89 68.39 L328.39 68.43 L328.89 68.48 L329.39 68.52 L329.89 68.57 L330.38 68.61 L330.88 68.66 L331.38 68.71 L331.88 68.76 L332.38 68.81 L332.87 68.86 L333.37 68.91 L333.87 68.97 L334.37 69.02 L334.86 69.07 L335.36 69.12 L335.86 69.18 L336.36 69.23 L336.85 69.29 L337.35 69.34 L337.85 69.4 L338.35 69.47 L338.84 69.53 L339.34 69.6 L339.83 69.67 L340.33 69.74 L340.82 69.82 L341.32 69.9 L341.81 69.98 L342.3 70.07 L342.8 70.15 L343.29 70.24 L343.78 70.34 L344.27 70.43 L344.76 70.53 L345.25 70.62 L345.74 70.72 L346.23 70.82 L346.72 70.93 L347.21 71.03 L347.7 71.14 L348.19 71.25 L348.68 71.36 L349.17 71.47 L349.65 71.59 L350.14 71.71 L350.62 71.83 L351.11 71.96 L351.59 72.09 L352.07 72.22 L352.56 72.36 L353.04 72.5 L353.51 72.64 L353.99 72.79 L354.47 72.94 L354.94 73.1 L355.42 73.26 L355.89 73.42 L356.36 73.59 L356.83 73.76 L357.3 73.94 L357.77 74.12 L358.23 74.31 L358.69 74.51 L359.15 74.71 L359.6 74.92 L360.05 75.14 L360.5 75.36 L360.94 75.6 L361.38 75.83 L361.82 76.08 L362.25 76.33 L362.68 76.58 L363.11 76.84 L363.54 77.1 L363.96 77.36 L364.39 77.63 L364.81 77.9 L365.23 78.18 L365.64 78.45 L366.06 78.73 L366.47 79.01 L366.89 79.29 L367.3 79.57 L367.71 79.86 L368.13 80.14 L368.54 80.43 L368.95 80.71 L369.36 81 L369.77 81.28 L370.18 81.57 L370.59 81.86 L370.99 82.16 L371.39 82.45 L371.79 82.76 L372.18 83.07 L372.57 83.39 L372.95 83.71 L373.32 84.05 L373.68 84.39 L374.04 84.74 L374.38 85.1 L374.72 85.47 L375.06 85.84 L375.39 86.22 L375.72 86.59 L376.04 86.98 L376.36 87.36 L376.68 87.74 L377.01 88.13 L377.32 88.51 L377.64 88.9 L377.96 89.29 L378.28 89.67 L378.59 90.06 L378.9 90.45 L379.21 90.85 L379.52 91.24 L379.82 91.64 L380.12 92.04 L380.41 92.45 L380.7 92.86 L380.98 93.27 L381.26 93.69 L381.53 94.11 L381.8 94.53 L382.06 94.96 L382.32 95.39 L382.56 95.82 L382.81 96.26 L383.04 96.7 L383.28 97.14 L383.51 97.59 L383.73 98.03 L383.95 98.48 L384.17 98.93 L384.39 99.38 L384.61 99.83 L384.82 100.29 L385.03 100.74 L385.25 101.19 L385.46 101.65 L385.67 102.1 L385.87 102.56 L386.08 103.01 L386.29 103.47 L386.5 103.92 L386.71 104.38 L386.92 104.83 L387.12 105.29 L387.33 105.74 L387.53 106.2 L387.73 106.66 L387.93 107.12 L388.12 107.58 L388.31 108.04 L388.51 108.5 L388.7 108.97 L388.89 109.43 L389.09 109.89 L389.29 110.35 L389.49 110.81 L389.69 111.27 L389.9 111.72 L390.11 112.17 L390.33 112.62 L390.55 113.07 L390.78 113.52 L391.01 113.96 L391.25 114.4 L391.49 114.84 L391.74 115.27 L392 115.7 L392.26 116.13 L392.52 116.55 L392.8 116.97 L393.08 117.38 L393.37 117.79 L393.67 118.19 L393.98 118.58 L394.29 118.98 L394.61 119.36 L394.93 119.74 L395.26 120.12 L395.59 120.5 L395.91 120.88 L396.24 121.26 L396.56 121.64 L396.88 122.03 L397.18 122.42 L397.49 122.82 L397.79 123.21 L398.11 123.58 L398.45 123.92 L398.82 124.24 L399 124.4 L399.37 124.09 L399.72 123.76 L400.05 123.4 L400.36 123.02 L400.66 122.62 L400.97 122.23 L401.28 121.84 L401.59 121.45 L401.92 121.07 L402.25 120.69 L402.57 120.32 L402.9 119.94 L403.23 119.56 L403.55 119.17 L403.86 118.79 L404.17 118.39 L404.47 118 L404.77 117.59 L405.05 117.18 L405.33 116.77 L405.6 116.35 L405.87 115.93 L406.13 115.5 L406.38 115.07 L406.62 114.63 L406.86 114.19 L407.1 113.75 L407.33 113.31 L407.56 112.86 L407.78 112.41 L407.99 111.96 L408.2 111.51 L408.41 111.05 L408.61 110.6 L408.81 110.14 L409 109.68 L409.2 109.22 L409.39 108.76 L409.58 108.29 L409.77 107.83 L409.97 107.37 L410.16 106.91 L410.36 106.45 L410.56 105.99 L410.76 105.54 L410.97 105.08 L411.17 104.63 L411.38 104.17 L411.59 103.72 L411.8 103.26 L412.01 102.81 L412.22 102.35 L412.43 101.9 L412.63 101.45 L412.84 100.99 L413.06 100.54 L413.27 100.09 L413.48 99.63 L413.7 99.18 L413.92 98.73 L414.14 98.29 L414.36 97.84 L414.59 97.39 L414.82 96.95 L415.05 96.51 L415.29 96.07 L415.54 95.63 L415.79 95.2 L416.05 94.78 L416.31 94.35 L416.58 93.93 L416.86 93.52 L417.15 93.11 L417.43 92.7 L417.73 92.29 L418.03 91.89 L418.33 91.5 L418.64 91.1 L418.95 90.71 L419.26 90.32 L419.58 89.94 L419.9 89.55 L420.22 89.17 L420.54 88.78 L420.86 88.4 L421.18 88.02 L421.51 87.64 L421.83 87.25 L422.15 86.87 L422.48 86.49 L422.81 86.12 L423.14 85.74 L423.47 85.37 L423.82 85.01 L424.16 84.65 L424.52 84.3 L424.88 83.95 L425.25 83.62 L425.62 83.28 L426 82.96 L426.39 82.64 L426.78 82.33 L427.18 82.03 L427.58 81.74 L427.99 81.46 L428.41 81.18 L428.83 80.91 L429.25 80.64 L429.67 80.37 L430.1 80.11 L430.52 79.85 L430.95 79.59 L431.38 79.33 L431.81 79.07 L432.23 78.81 L432.67 78.56 L433.1 78.3 L433.53 78.05 L433.96 77.8 L434.4 77.56 L434.83 77.32 L435.27 77.07 L435.71 76.84 L436.15 76.6 L436.6 76.37 L437.04 76.14 L437.49 75.92 L437.94 75.7 L438.39 75.48 L438.84 75.27 L439.29 75.06 L439.75 74.86 L440.21 74.66 L440.67 74.46 L441.13 74.28 L441.6 74.09 L442.06 73.92 L442.53 73.74 L443.01 73.58 L443.48 73.42 L443.96 73.27 L444.44 73.13 L444.92 72.99 L445.4 72.86 L445.88 72.74 L446.37 72.62 L446.86 72.51 L447.34 72.4 L447.83 72.29 L448.32 72.19 L448.81 72.09 L449.3 71.99 L449.79 71.89 L450.28 71.8 L450.77 71.71 L451.27 71.62 L451.76 71.53 L452.25 71.44 L452.74 71.36 L453.24 71.27 L453.73 71.19 L454.22 71.12 L454.72 71.04 L455.21 70.96 L455.71 70.89 L456.2 70.82 L456.7 70.75 L457.19 70.68 L457.69 70.61 L458.18 70.55 L458.68 70.49 L459.17 70.43 L459.67 70.37 L460.17 70.31 L460.66 70.25 L461.16 70.19 L461.66 70.14 L462.15 70.09 L462.65 70.03 L463.15 69.98 L463.65 69.93 L464.14 69.88 L464.64 69.84 L465.14 69.79 L465.64 69.74 L466.13 69.7 L466.63 69.65 L467.13 69.61 L467.63 69.56 L468.13 69.52 L468.62 69.48 L469.12 69.44 L469.62 69.4 L470.12 69.36 L470.62 69.32 L471.12 69.28 L471.61 69.24 L472.11 69.2 L472.61 69.17 L473.11 69.13 L473.61 69.1 L474.11 69.07 L474.61 69.04 L475.11 69.01 L475.6 68.98 L476.1 68.95 L476.6 68.93 L477.1 68.9 L477.6 68.88 L478.1 68.86 L478.6 68.84 L479.1 68.82 L479.6 68.8" fill="none" stroke="#ff3b3b" stroke-width="0.95" stroke-linejoin="round" clip-path="url(#p2)" />
<path d="M316.9 67.4 L318.4 67.47 L319.9 67.54 L321.39 67.62 L322.89 67.71 L324.39 67.8 L325.88 67.9 L327.38 68 L328.88 68.11 L330.37 68.23 L331.87 68.34 L333.36 68.47 L334.85 68.59 L336.35 68.72 L337.84 68.86 L339.34 68.99 L340.83 69.13 L342.32 69.28 L343.81 69.42 L345.31 69.57 L346.8 69.72 L348.29 69.87 L349.78 70.03 L351.27 70.2 L352.76 70.38 L354.25 70.57 L355.73 70.76 L357.22 70.97 L358.71 71.17 L360.19 71.39 L361.67 71.61 L363.16 71.84 L364.64 72.07 L366.12 72.3 L367.6 72.54 L369.08 72.78 L370.56 73.04 L372.03 73.31 L373.5 73.6 L374.97 73.9 L376.44 74.2 L377.91 74.5 L379.38 74.81 L380.85 75.11 L382.32 75.4 L383.79 75.68 L385.27 75.96 L386.74 76.22 L388.22 76.48 L389.7 76.73 L391.18 76.99 L392.65 77.25 L394.12 77.53 L395.59 77.85 L397.06 78.12 L398.55 78.28 L398.8 78.3 L400.29 78.15 L401.77 77.9 L403.23 77.58 L404.7 77.27 L406.17 76.99 L407.65 76.73 L409.12 76.48 L410.6 76.22 L412.08 75.97 L413.56 75.71 L415.04 75.46 L416.51 75.21 L417.99 74.95 L419.47 74.7 L420.95 74.46 L422.43 74.21 L423.91 73.98 L425.39 73.75 L426.87 73.52 L428.36 73.3 L429.84 73.08 L431.32 72.86 L432.81 72.64 L434.29 72.42 L435.77 72.21 L437.26 72 L438.75 71.79 L440.23 71.6 L441.72 71.4 L443.21 71.22 L444.7 71.05 L446.19 70.89 L447.68 70.73 L449.17 70.59 L450.67 70.45 L452.16 70.32 L453.65 70.2 L455.15 70.08 L456.64 69.96 L458.14 69.85 L459.63 69.74 L461.13 69.64 L462.63 69.55 L464.12 69.45 L465.62 69.36 L467.12 69.28 L468.61 69.2 L470.11 69.12 L471.61 69.04 L473.11 68.97 L474.61 68.9 L476.1 68.84 L477.6 68.77 L479.1 68.72 L479.6 68.7" fill="none" stroke="#0000ff" stroke-width="1.8" stroke-linejoin="round" clip-path="url(#p2)" />
<path d="M316.9 66.6 L318.4 66.64 L319.9 66.68 L321.4 66.71 L322.9 66.76 L324.4 66.8 L325.9 66.84 L327.4 66.89 L328.9 66.93 L330.4 66.98 L331.9 67.03 L333.4 67.08 L334.9 67.13 L336.4 67.18 L337.9 67.24 L339.4 67.29 L340.9 67.35 L342.4 67.41 L343.89 67.47 L345.39 67.54 L346.89 67.6 L348.39 67.67 L349.89 67.73 L351.39 67.8 L352.89 67.87 L354.39 67.94 L355.89 68 L357.39 68.07 L358.88 68.14 L360.38 68.2 L361.88 68.27 L363.38 68.34 L364.88 68.4 L366.38 68.47 L367.88 68.54 L369.38 68.6 L370.88 68.67 L372.38 68.74 L373.87 68.81 L375.37 68.88 L376.87 68.95 L378.37 69.02 L379.87 69.1 L381.37 69.17 L382.87 69.25 L384.36 69.33 L385.86 69.42 L387.36 69.5 L388.86 69.58 L390.36 69.66 L391.86 69.74 L393.35 69.82 L394.85 69.89 L396.35 69.96 L397.85 70.01 L399.35 70.05 L400.85 70.08 L402.35 70.08 L403.85 70.07 L405.35 70.06 L406.85 70.04 L408.35 70.02 L409.85 70 L411.35 69.97 L412.85 69.94 L414.35 69.9 L415.85 69.87 L417.35 69.82 L418.85 69.77 L420.35 69.73 L421.85 69.67 L423.35 69.62 L424.85 69.57 L426.35 69.52 L427.85 69.47 L429.35 69.42 L430.85 69.37 L432.35 69.33 L433.85 69.28 L435.35 69.23 L436.85 69.19 L438.35 69.14 L439.85 69.09 L441.35 69.05 L442.85 69 L444.35 68.96 L445.85 68.91 L447.35 68.87 L448.85 68.83 L450.35 68.79 L451.85 68.76 L453.35 68.72 L454.85 68.68 L456.35 68.65 L457.85 68.61 L459.35 68.58 L460.85 68.55 L462.35 68.52 L463.85 68.48 L465.35 68.45 L466.85 68.42 L468.35 68.39 L469.85 68.36 L471.35 68.34 L472.85 68.31 L474.35 68.28 L475.85 68.26 L477.35 68.23 L478.85 68.21 L479.6 68.2" fill="none" stroke="#14be14" stroke-width="1.35" stroke-linejoin="round" clip-path="url(#p2)" />
<path d="M316.9 65.9 L318.4 65.93 L319.9 65.97 L321.4 66 L322.9 66.04 L324.4 66.07 L325.9 66.1 L327.39 66.14 L328.89 66.17 L330.39 66.2 L331.89 66.23 L333.39 66.26 L334.89 66.29 L336.39 66.32 L337.89 66.35 L339.39 66.38 L340.89 66.41 L342.39 66.44 L343.89 66.46 L345.39 66.49 L346.89 66.52 L348.39 66.54 L349.89 66.57 L351.38 66.6 L352.88 66.62 L354.38 66.64 L355.88 66.67 L357.38 66.69 L358.88 66.71 L360.38 66.73 L361.88 66.76 L363.38 66.78 L364.88 66.8 L366.38 66.82 L367.88 66.84 L369.38 66.86 L370.88 66.88 L372.38 66.9 L373.88 66.92 L375.38 66.94 L376.88 66.95 L378.38 66.97 L379.88 66.99 L381.38 67.01 L382.87 67.02 L384.37 67.04 L385.87 67.06 L387.37 67.07 L388.87 67.09 L390.37 67.1 L391.87 67.12 L393.37 67.13 L394.87 67.15 L396.37 67.16 L397.87 67.18 L399.37 67.19 L400.87 67.21 L402.37 67.22 L403.87 67.23 L405.37 67.25 L406.87 67.26 L408.37 67.27 L409.87 67.28 L411.37 67.3 L412.87 67.31 L414.37 67.32 L415.87 67.33 L417.37 67.34 L418.86 67.34 L420.36 67.35 L421.86 67.36 L423.36 67.36 L424.86 67.37 L426.36 67.38 L427.86 67.38 L429.36 67.39 L430.86 67.39 L432.36 67.4 L433.86 67.4 L435.36 67.4 L436.86 67.41 L438.36 67.41 L439.86 67.42 L441.36 67.42 L442.86 67.43 L444.36 67.43 L445.86 67.44 L447.36 67.44 L448.86 67.45 L450.36 67.45 L451.86 67.46 L453.36 67.46 L454.86 67.47 L456.36 67.48 L457.86 67.48 L459.36 67.49 L460.85 67.5 L462.35 67.51 L463.85 67.51 L465.35 67.52 L466.85 67.53 L468.35 67.54 L469.85 67.54 L471.35 67.55 L472.85 67.56 L474.35 67.57 L475.85 67.58 L477.35 67.59 L478.85 67.6 L479.6 67.6" fill="none" stroke="#00e8ee" stroke-width="1.15" stroke-linejoin="round" clip-path="url(#p2)" />
<path d="M316.9 65.4 L318.4 65.41 L319.9 65.42 L321.4 65.42 L322.9 65.43 L324.4 65.44 L325.9 65.45 L327.4 65.46 L328.9 65.46 L330.4 65.47 L331.9 65.48 L333.4 65.49 L334.9 65.5 L336.39 65.51 L337.89 65.52 L339.39 65.53 L340.89 65.54 L342.39 65.55 L343.89 65.56 L345.39 65.57 L346.89 65.58 L348.39 65.59 L349.89 65.6 L351.39 65.61 L352.89 65.62 L354.39 65.63 L355.89 65.64 L357.39 65.65 L358.89 65.66 L360.39 65.67 L361.89 65.68 L363.39 65.69 L364.89 65.71 L366.39 65.72 L367.89 65.73 L369.39 65.74 L370.88 65.75 L372.38 65.76 L373.88 65.78 L375.38 65.79 L376.88 65.8 L378.38 65.81 L379.88 65.82 L381.38 65.84 L382.88 65.85 L384.38 65.86 L385.88 65.87 L387.38 65.89 L388.88 65.9 L390.38 65.91 L391.88 65.92 L393.38 65.94 L394.88 65.95 L396.38 65.96 L397.88 65.98 L399.38 65.99 L400.88 66 L402.38 66.02 L403.87 66.03 L405.37 66.04 L406.87 66.06 L408.37 66.07 L409.87 66.09 L411.37 66.1 L412.87 66.12 L414.37 66.13 L415.87 66.15 L417.37 66.16 L418.87 66.18 L420.37 66.19 L421.87 66.21 L423.37 66.22 L424.87 66.24 L426.37 66.25 L427.87 66.27 L429.37 66.29 L430.87 66.3 L432.37 66.32 L433.87 66.34 L435.36 66.35 L436.86 66.37 L438.36 66.39 L439.86 66.4 L441.36 66.42 L442.86 66.44 L444.36 66.46 L445.86 66.47 L447.36 66.49 L448.86 66.51 L450.36 66.53 L451.86 66.55 L453.36 66.56 L454.86 66.58 L456.36 66.6 L457.86 66.62 L459.36 66.64 L460.86 66.66 L462.36 66.68 L463.86 66.69 L465.35 66.71 L466.85 66.73 L468.35 66.75 L469.85 66.77 L471.35 66.79 L472.85 66.81 L474.35 66.83 L475.85 66.85 L477.35 66.87 L478.85 66.89 L479.6 66.9" fill="none" stroke="#000000" stroke-width="1.2" stroke-linejoin="round" clip-path="url(#p2)" />
<path d="M297.4 199.7 v-5 M297.4 59.25 v5 M309.55 199.7 v-2.5 M309.55 59.25 v2.5 M321.69 199.7 v-2.5 M321.69 59.25 v2.5 M333.84 199.7 v-2.5 M333.84 59.25 v2.5 M345.99 199.7 v-2.5 M345.99 59.25 v2.5 M358.13 199.7 v-5 M358.13 59.25 v5 M370.28 199.7 v-2.5 M370.28 59.25 v2.5 M382.43 199.7 v-2.5 M382.43 59.25 v2.5 M394.57 199.7 v-2.5 M394.57 59.25 v2.5 M406.72 199.7 v-2.5 M406.72 59.25 v2.5 M418.87 199.7 v-5 M418.87 59.25 v5 M431.01 199.7 v-2.5 M431.01 59.25 v2.5 M443.16 199.7 v-2.5 M443.16 59.25 v2.5 M455.31 199.7 v-2.5 M455.31 59.25 v2.5 M467.45 199.7 v-2.5 M467.45 59.25 v2.5 M479.6 199.7 v-5 M479.6 59.25 v5 M297.4 192.19 h5 M479.6 192.19 h-5 M297.4 173.73 h2.5 M479.6 173.73 h-2.5 M297.4 155.26 h5 M479.6 155.26 h-5 M297.4 136.8 h2.5 M479.6 136.8 h-2.5 M297.4 118.33 h5 M479.6 118.33 h-5 M297.4 99.87 h2.5 M479.6 99.87 h-2.5 M297.4 81.4 h5 M479.6 81.4 h-5 M297.4 62.94 h2.5 M479.6 62.94 h-2.5" stroke="#1c1c1c" stroke-width="1.25" fill="none"/>
<path d="M296.8 59.25 H480.2" stroke="#1c1c1c" stroke-width="1.45" fill="none"/>
<path d="M296.8 199.7 H480.2" stroke="#1c1c1c" stroke-width="1.65" fill="none"/>
<path d="M297.4 58.55 V200.5" stroke="#1c1c1c" stroke-width="1.2" fill="none"/>
<path d="M479.6 58.55 V200.5" stroke="#1c1c1c" stroke-width="1.2" fill="none"/>
<text transform="translate(291.4 84.65) scale(0.98 1)" text-anchor="end">0</text>
<text transform="translate(291.4 121.58) scale(0.98 1)" text-anchor="end">-1</text>
<text transform="translate(291.4 158.51) scale(0.98 1)" text-anchor="end">-2</text>
<text transform="translate(291.4 195.44) scale(0.98 1)" text-anchor="end">-3</text>
<text transform="translate(298.7 213.1) scale(0.98 1)" text-anchor="middle">2.05</text>
<text transform="translate(359.43 213.1) scale(0.98 1)" text-anchor="middle">2.1</text>
<text transform="translate(420.17 213.1) scale(0.98 1)" text-anchor="middle">2.15</text>
<text transform="translate(480.9 213.1) scale(0.98 1)" text-anchor="middle">2.2</text>
<text transform="translate(385.8 227.5) scale(0.93 1)" text-anchor="middle" class="b" font-size="10.6">Photoelectron energy, eV</text>
<text transform="translate(324.4 135.3) scale(0.93 1)" text-anchor="middle" class="b" font-size="10.6">Ca 4s</text>
<text transform="translate(326.5 144.5) scale(0.98 1)" text-anchor="end">θ=10</text>
<line x1="332.3" y1="141.3" x2="338.9" y2="141.3" stroke="#262626" stroke-width="1.15"/>
<text transform="translate(326.5 154.3) scale(0.98 1)" text-anchor="end">15</text>
<line x1="332.3" y1="151.1" x2="338.9" y2="151.1" stroke="#ff8a8a" stroke-width="1"/>
<text transform="translate(326.5 164.1) scale(0.98 1)" text-anchor="end">30</text>
<line x1="332.3" y1="160.9" x2="338.9" y2="160.9" stroke="#5a5aff" stroke-width="0.9"/>
<circle cx="335.6" cy="160.9" r="0.9" fill="#0000ff"/>
<text transform="translate(326.5 173.7) scale(0.98 1)" text-anchor="end">45</text>
<line x1="332.3" y1="170.5" x2="338.9" y2="170.5" stroke="#40c840" stroke-width="0.7"/>
<circle cx="335.6" cy="170.5" r="0.6" fill="#14be14"/>
<text transform="translate(326.5 183.4) scale(0.98 1)" text-anchor="end">60</text>
<line x1="332.3" y1="180.2" x2="338.9" y2="180.2" stroke="#40f0f0" stroke-width="0.9"/>
<circle cx="335.6" cy="180.2" r="0.6" fill="#00e8e8"/>
<text transform="translate(326.5 193.2) scale(0.98 1)" text-anchor="end">75</text>
<line x1="332.3" y1="190" x2="338.9" y2="190" stroke="#777" stroke-width="0.7"/>
<circle cx="335.6" cy="190" r="0.6" fill="#333"/>
<line x1="499.7" y1="78.05" x2="682" y2="78.05" stroke="#7a7a7a" stroke-width="0.9" stroke-dasharray="1.1 1.4"/>
<path d="M500.2 69.3 L500.69 69.38 L501.19 69.46 L501.68 69.53 L502.18 69.61 L502.67 69.69 L503.16 69.76 L503.66 69.83 L504.15 69.9 L504.65 69.97 L505.15 70.04 L505.64 70.1 L506.14 70.16 L506.63 70.22 L507.13 70.28 L507.63 70.34 L508.12 70.39 L508.62 70.45 L509.12 70.5 L509.61 70.55 L510.11 70.61 L510.61 70.66 L511.11 70.71 L511.6 70.76 L512.1 70.81 L512.6 70.86 L513.1 70.91 L513.59 70.96 L514.09 71.01 L514.59 71.05 L515.09 71.1 L515.59 71.15 L516.08 71.2 L516.58 71.25 L517.08 71.3 L517.58 71.35 L518.07 71.4 L518.57 71.45 L519.07 71.5 L519.57 71.55 L520.06 71.61 L520.56 71.66 L521.06 71.72 L521.55 71.78 L522.05 71.84 L522.54 71.9 L523.04 71.96 L523.54 72.03 L524.03 72.09 L524.53 72.16 L525.02 72.23 L525.52 72.3 L526.01 72.37 L526.51 72.45 L527 72.52 L527.5 72.59 L527.99 72.67 L528.48 72.75 L528.98 72.83 L529.47 72.9 L529.96 72.99 L530.46 73.07 L530.95 73.16 L531.44 73.25 L531.93 73.34 L532.42 73.44 L532.91 73.54 L533.4 73.64 L533.89 73.76 L534.37 73.88 L534.85 74 L535.33 74.14 L535.81 74.28 L536.29 74.42 L536.77 74.57 L537.24 74.73 L537.72 74.89 L538.19 75.05 L538.66 75.22 L539.13 75.39 L539.6 75.57 L540.06 75.75 L540.53 75.93 L540.99 76.12 L541.45 76.31 L541.91 76.5 L542.37 76.7 L542.83 76.9 L543.28 77.11 L543.73 77.33 L544.18 77.55 L544.63 77.77 L545.07 78.01 L545.5 78.25 L545.94 78.49 L546.37 78.75 L546.79 79.01 L547.21 79.28 L547.63 79.55 L548.05 79.82 L548.46 80.1 L548.88 80.39 L549.28 80.67 L549.69 80.96 L550.1 81.26 L550.5 81.55 L550.91 81.84 L551.31 82.14 L551.71 82.44 L552.11 82.74 L552.5 83.05 L552.9 83.35 L553.29 83.66 L553.69 83.97 L554.08 84.28 L554.47 84.59 L554.86 84.9 L555.25 85.22 L555.64 85.53 L556.02 85.85 L556.4 86.17 L556.78 86.5 L557.16 86.83 L557.53 87.16 L557.89 87.5 L558.25 87.85 L558.61 88.2 L558.96 88.56 L559.3 88.92 L559.64 89.28 L559.97 89.66 L560.3 90.03 L560.63 90.41 L560.94 90.8 L561.26 91.19 L561.57 91.58 L561.87 91.97 L562.17 92.37 L562.46 92.78 L562.75 93.18 L563.04 93.59 L563.32 94.01 L563.6 94.42 L563.87 94.84 L564.13 95.27 L564.4 95.69 L564.65 96.12 L564.91 96.55 L565.16 96.98 L565.4 97.42 L565.64 97.86 L565.88 98.3 L566.11 98.74 L566.34 99.18 L566.57 99.63 L566.79 100.07 L567.01 100.52 L567.23 100.97 L567.45 101.42 L567.66 101.87 L567.87 102.33 L568.08 102.78 L568.29 103.24 L568.49 103.69 L568.7 104.15 L568.9 104.61 L569.1 105.07 L569.29 105.53 L569.49 105.99 L569.68 106.45 L569.87 106.91 L570.06 107.37 L570.24 107.84 L570.43 108.3 L570.61 108.77 L570.78 109.24 L570.96 109.7 L571.13 110.17 L571.3 110.64 L571.47 111.12 L571.63 111.59 L571.8 112.06 L571.96 112.53 L572.12 113.01 L572.27 113.48 L572.43 113.96 L572.58 114.43 L572.73 114.91 L572.87 115.39 L573.02 115.87 L573.16 116.35 L573.3 116.83 L573.44 117.31 L573.57 117.79 L573.7 118.27 L573.83 118.75 L573.96 119.24 L574.09 119.72 L574.21 120.21 L574.33 120.69 L574.45 121.18 L574.57 121.66 L574.69 122.15 L574.81 122.63 L574.92 123.12 L575.04 123.61 L575.15 124.09 L575.27 124.58 L575.38 125.07 L575.5 125.55 L575.61 126.04 L575.73 126.53 L575.84 127.01 L575.96 127.5 L576.07 127.99 L576.19 128.47 L576.3 128.96 L576.42 129.45 L576.53 129.93 L576.65 130.42 L576.76 130.91 L576.87 131.39 L576.99 131.88 L577.1 132.37 L577.21 132.85 L577.33 133.34 L577.44 133.83 L577.55 134.32 L577.66 134.8 L577.77 135.29 L577.88 135.78 L578 136.27 L578.11 136.75 L578.22 137.24 L578.33 137.73 L578.44 138.22 L578.55 138.7 L578.66 139.19 L578.77 139.68 L578.88 140.17 L578.99 140.66 L579.1 141.14 L579.2 141.63 L579.31 142.12 L579.42 142.61 L579.53 143.1 L579.64 143.58 L579.75 144.07 L579.85 144.56 L579.96 145.05 L580.07 145.54 L580.18 146.03 L580.28 146.51 L580.39 147 L580.5 147.49 L580.6 147.98 L580.71 148.47 L580.81 148.96 L580.92 149.45 L581.02 149.94 L581.12 150.42 L581.23 150.91 L581.33 151.4 L581.43 151.89 L581.54 152.38 L581.64 152.87 L581.74 153.36 L581.84 153.85 L581.94 154.34 L582.04 154.83 L582.14 155.32 L582.24 155.81 L582.34 156.3 L582.44 156.79 L582.54 157.28 L582.64 157.77 L582.74 158.26 L582.84 158.75 L582.94 159.24 L583.04 159.73 L583.14 160.22 L583.23 160.71 L583.33 161.2 L583.43 161.69 L583.53 162.18 L583.63 162.67 L583.73 163.16 L583.83 163.65 L583.93 164.14 L584.03 164.63 L584.13 165.12 L584.24 165.61 L584.34 166.1 L584.44 166.59 L584.55 167.08 L584.65 167.57 L584.76 168.05 L584.87 168.54 L584.98 169.03 L585.09 169.52 L585.21 170 L585.33 170.49 L585.44 170.97 L585.57 171.46 L585.69 171.94 L585.81 172.43 L585.94 172.91 L586.07 173.39 L586.21 173.88 L586.34 174.36 L586.48 174.84 L586.63 175.31 L586.77 175.79 L586.93 176.27 L587.08 176.74 L587.24 177.22 L587.41 177.69 L587.58 178.15 L587.76 178.62 L587.95 179.07 L588.15 179.53 L588.37 179.97 L588.6 180.4 L588.84 180.82 L589.1 181.23 L589.37 181.63 L589.66 182.02 L589.95 182.41 L590.1 182.6 L590.4 182.22 L590.69 181.83 L590.97 181.44 L591.24 181.04 L591.5 180.63 L591.75 180.2 L591.97 179.77 L592.19 179.32 L592.4 178.87 L592.6 178.42 L592.79 177.96 L592.97 177.5 L593.15 177.03 L593.31 176.56 L593.48 176.09 L593.63 175.62 L593.78 175.14 L593.92 174.66 L594.06 174.18 L594.19 173.7 L594.31 173.22 L594.43 172.73 L594.54 172.25 L594.65 171.76 L594.76 171.27 L594.87 170.79 L594.97 170.3 L595.08 169.81 L595.18 169.32 L595.29 168.83 L595.4 168.35 L595.5 167.86 L595.61 167.37 L595.72 166.88 L595.83 166.4 L595.93 165.91 L596.04 165.42 L596.15 164.93 L596.26 164.45 L596.37 163.96 L596.48 163.47 L596.6 162.99 L596.71 162.5 L596.82 162.01 L596.94 161.53 L597.05 161.04 L597.17 160.56 L597.28 160.07 L597.4 159.59 L597.52 159.1 L597.63 158.62 L597.75 158.13 L597.87 157.64 L597.98 157.16 L598.1 156.67 L598.22 156.19 L598.33 155.7 L598.44 155.21 L598.55 154.73 L598.66 154.24 L598.77 153.75 L598.88 153.27 L598.99 152.78 L599.09 152.29 L599.2 151.8 L599.3 151.31 L599.4 150.82 L599.5 150.34 L599.6 149.85 L599.7 149.36 L599.8 148.87 L599.9 148.38 L600 147.89 L600.1 147.4 L600.2 146.91 L600.3 146.42 L600.39 145.93 L600.49 145.44 L600.58 144.95 L600.68 144.46 L600.78 143.97 L600.87 143.48 L600.97 142.99 L601.06 142.5 L601.15 142.01 L601.25 141.52 L601.34 141.03 L601.44 140.54 L601.53 140.05 L601.62 139.56 L601.71 139.07 L601.81 138.58 L601.9 138.09 L601.98 137.59 L602.07 137.1 L602.16 136.61 L602.25 136.12 L602.34 135.63 L602.42 135.14 L602.51 134.65 L602.61 134.16 L602.7 133.67 L602.8 133.18 L602.9 132.69 L603 132.2 L603.26 131.76 L603.52 131.32 L603.78 130.88 L604.04 130.44 L604.3 130 L604.39 129.51 L604.48 129.02 L604.56 128.53 L604.65 128.03 L604.73 127.54 L604.81 127.05 L604.88 126.55 L604.96 126.06 L605.03 125.57 L605.11 125.07 L605.18 124.58 L605.26 124.08 L605.33 123.59 L605.41 123.1 L605.49 122.6 L605.57 122.11 L605.65 121.61 L605.73 121.12 L605.81 120.63 L605.9 120.14 L605.98 119.64 L606.06 119.15 L606.15 118.66 L606.24 118.17 L606.33 117.67 L606.42 117.18 L606.51 116.69 L606.61 116.2 L606.72 115.72 L606.83 115.23 L606.95 114.74 L607.07 114.26 L607.2 113.78 L607.34 113.3 L607.49 112.82 L607.64 112.35 L607.81 111.88 L607.98 111.41 L608.16 110.95 L608.35 110.48 L608.54 110.02 L608.74 109.57 L608.95 109.11 L609.16 108.66 L609.38 108.21 L609.6 107.76 L609.82 107.32 L610.04 106.87 L610.26 106.42 L610.48 105.97 L610.69 105.52 L610.9 105.07 L611.11 104.61 L611.32 104.16 L611.52 103.7 L611.71 103.24 L611.91 102.78 L612.1 102.32 L612.29 101.85 L612.48 101.39 L612.66 100.93 L612.85 100.46 L613.04 100 L613.23 99.54 L613.43 99.08 L613.62 98.62 L613.82 98.16 L614.03 97.71 L614.24 97.26 L614.47 96.82 L614.7 96.38 L614.94 95.94 L615.2 95.52 L615.47 95.1 L615.75 94.69 L616.04 94.3 L616.35 93.91 L616.67 93.53 L617 93.16 L617.35 92.8 L617.7 92.45 L618.06 92.11 L618.43 91.77 L618.81 91.45 L619.19 91.13 L619.58 90.82 L619.97 90.51 L620.37 90.21 L620.77 89.91 L621.17 89.61 L621.57 89.32 L621.98 89.02 L622.38 88.73 L622.78 88.43 L623.19 88.14 L623.59 87.84 L623.99 87.55 L624.4 87.25 L624.8 86.96 L625.2 86.66 L625.61 86.37 L626.01 86.08 L626.42 85.79 L626.83 85.5 L627.24 85.21 L627.65 84.93 L628.06 84.64 L628.47 84.36 L628.89 84.08 L629.31 83.81 L629.72 83.53 L630.14 83.26 L630.56 82.99 L630.99 82.72 L631.41 82.46 L631.83 82.19 L632.26 81.93 L632.68 81.67 L633.11 81.41 L633.54 81.15 L633.96 80.89 L634.4 80.64 L634.83 80.39 L635.26 80.14 L635.7 79.89 L636.14 79.66 L636.58 79.42 L637.02 79.19 L637.47 78.97 L637.92 78.76 L638.37 78.55 L638.83 78.35 L639.29 78.16 L639.75 77.97 L640.22 77.79 L640.68 77.62 L641.15 77.45 L641.63 77.29 L642.1 77.13 L642.58 76.98 L643.06 76.84 L643.53 76.69 L644.02 76.56 L644.5 76.43 L644.98 76.3 L645.46 76.18 L645.95 76.06 L646.44 75.95 L646.92 75.84 L647.41 75.73 L647.9 75.63 L648.39 75.53 L648.88 75.44 L649.37 75.35 L649.87 75.26 L650.36 75.18 L650.85 75.1 L651.34 75.02 L651.84 74.94 L652.33 74.86 L652.83 74.79 L653.32 74.72 L653.82 74.65 L654.31 74.58 L654.81 74.52 L655.3 74.45 L655.8 74.39 L656.29 74.33 L656.79 74.27 L657.29 74.21 L657.78 74.15 L658.28 74.1 L658.78 74.05 L659.28 74 L659.77 73.96 L660.27 73.92 L660.77 73.88 L661.27 73.84 L661.77 73.81 L662.27 73.78 L662.76 73.75 L663.26 73.72 L663.76 73.7 L664.26 73.67 L664.76 73.65 L665.26 73.63 L665.76 73.61 L666.26 73.59 L666.76 73.57 L667.26 73.55 L667.76 73.53 L668.26 73.51 L668.76 73.5 L669.26 73.48 L669.76 73.47 L670.26 73.45 L670.76 73.44 L671.26 73.42 L671.76 73.41 L672.25 73.4 L672.75 73.38 L673.25 73.37 L673.75 73.36 L674.25 73.35 L674.75 73.33 L675.25 73.32 L675.75 73.31 L676.25 73.3 L676.75 73.29 L677.25 73.28 L677.75 73.27 L678.25 73.26 L678.75 73.25 L679.25 73.24 L679.75 73.23 L680.25 73.23 L680.75 73.22 L681.25 73.21 L681.75 73.2 L682 73.2" fill="none" stroke="#262626" stroke-width="1.15" stroke-linejoin="round" clip-path="url(#p3)" />
<path d="M500.2 69.3 L500.7 69.37 L501.19 69.44 L501.69 69.5 L502.18 69.57 L502.68 69.64 L503.17 69.7 L503.67 69.77 L504.17 69.83 L504.66 69.89 L505.16 69.95 L505.65 70.01 L506.15 70.07 L506.65 70.13 L507.14 70.19 L507.64 70.24 L508.14 70.3 L508.64 70.35 L509.13 70.41 L509.63 70.46 L510.13 70.51 L510.62 70.56 L511.12 70.61 L511.62 70.66 L512.12 70.71 L512.61 70.76 L513.11 70.81 L513.61 70.85 L514.11 70.9 L514.61 70.94 L515.1 70.98 L515.6 71.03 L516.1 71.07 L516.6 71.11 L517.1 71.15 L517.6 71.19 L518.09 71.24 L518.59 71.28 L519.09 71.32 L519.59 71.37 L520.09 71.42 L520.58 71.47 L521.08 71.52 L521.58 71.57 L522.08 71.62 L522.57 71.68 L523.07 71.73 L523.57 71.79 L524.06 71.85 L524.56 71.91 L525.06 71.97 L525.55 72.04 L526.05 72.1 L526.54 72.17 L527.04 72.24 L527.53 72.31 L528.03 72.38 L528.52 72.46 L529.02 72.53 L529.51 72.61 L530 72.7 L530.5 72.78 L530.99 72.87 L531.48 72.96 L531.97 73.06 L532.46 73.16 L532.95 73.26 L533.44 73.36 L533.93 73.47 L534.41 73.58 L534.9 73.69 L535.39 73.81 L535.87 73.92 L536.36 74.05 L536.84 74.17 L537.33 74.3 L537.81 74.43 L538.29 74.57 L538.77 74.71 L539.25 74.85 L539.72 75 L540.2 75.16 L540.67 75.32 L541.15 75.48 L541.62 75.65 L542.08 75.83 L542.55 76.01 L543.01 76.2 L543.47 76.39 L543.93 76.59 L544.39 76.79 L544.84 77 L545.3 77.2 L545.75 77.41 L546.21 77.63 L546.66 77.84 L547.11 78.06 L547.56 78.27 L548.01 78.49 L548.46 78.71 L548.91 78.93 L549.36 79.15 L549.8 79.37 L550.25 79.6 L550.7 79.82 L551.14 80.05 L551.59 80.28 L552.03 80.52 L552.47 80.75 L552.91 80.99 L553.35 81.23 L553.78 81.48 L554.22 81.72 L554.65 81.97 L555.08 82.23 L555.51 82.49 L555.93 82.75 L556.36 83.01 L556.78 83.28 L557.19 83.56 L557.61 83.84 L558.02 84.13 L558.42 84.42 L558.82 84.72 L559.22 85.02 L559.61 85.33 L560 85.65 L560.38 85.97 L560.76 86.29 L561.14 86.62 L561.51 86.95 L561.89 87.28 L562.26 87.61 L562.64 87.94 L563.01 88.28 L563.38 88.61 L563.75 88.95 L564.13 89.28 L564.5 89.62 L564.87 89.95 L565.23 90.29 L565.6 90.63 L565.96 90.98 L566.32 91.32 L566.68 91.67 L567.04 92.02 L567.39 92.37 L567.74 92.73 L568.09 93.09 L568.43 93.46 L568.77 93.83 L569.1 94.2 L569.43 94.58 L569.75 94.96 L570.07 95.34 L570.38 95.73 L570.69 96.12 L571 96.52 L571.3 96.92 L571.59 97.32 L571.89 97.73 L572.18 98.13 L572.47 98.54 L572.75 98.95 L573.04 99.36 L573.32 99.78 L573.6 100.19 L573.88 100.6 L574.16 101.02 L574.43 101.44 L574.71 101.85 L574.99 102.27 L575.26 102.69 L575.54 103.1 L575.81 103.52 L576.09 103.94 L576.37 104.35 L576.64 104.77 L576.91 105.19 L577.19 105.61 L577.46 106.03 L577.72 106.45 L577.99 106.88 L578.25 107.3 L578.52 107.73 L578.78 108.15 L579.04 108.58 L579.3 109.01 L579.56 109.43 L579.82 109.86 L580.08 110.29 L580.35 110.71 L580.62 111.13 L580.89 111.55 L581.17 111.97 L581.45 112.38 L581.74 112.79 L582.03 113.19 L582.32 113.6 L582.63 113.99 L582.93 114.39 L583.25 114.78 L583.56 115.16 L583.89 115.54 L584.22 115.91 L584.57 116.26 L584.93 116.6 L585.3 116.92 L585.7 117.22 L586.1 117.5 L586.52 117.76 L586.96 117.99 L587.4 118.2 L587.86 118.39 L588.33 118.55 L588.8 118.7 L589.28 118.83 L589.76 118.94 L590 119 L590.49 118.89 L590.97 118.76 L591.45 118.63 L591.92 118.47 L592.38 118.29 L592.84 118.09 L593.28 117.86 L593.71 117.62 L594.12 117.35 L594.53 117.05 L594.91 116.74 L595.28 116.41 L595.64 116.06 L595.98 115.69 L596.32 115.32 L596.65 114.95 L596.98 114.57 L597.31 114.18 L597.63 113.8 L597.95 113.41 L598.27 113.02 L598.58 112.63 L598.9 112.24 L599.21 111.84 L599.52 111.44 L599.82 111.04 L600.13 110.65 L600.44 110.25 L600.74 109.85 L601.05 109.45 L601.36 109.05 L601.67 108.66 L601.99 108.26 L602.3 107.87 L602.62 107.48 L602.94 107.09 L603.1 106.9 L603.46 106.55 L603.82 106.19 L604.16 105.83 L604.5 105.46 L604.83 105.09 L605 104.9 L605.11 104.42 L605.21 103.95 L605.31 103.47 L605.41 102.99 L605.5 102.51 L605.6 102.03 L605.7 101.56 L605.8 101.08 L605.9 100.6 L606.17 100.18 L606.44 99.77 L606.73 99.36 L607.02 98.97 L607.33 98.58 L607.65 98.2 L607.98 97.83 L608.33 97.46 L608.67 97.11 L609.03 96.76 L609.39 96.41 L609.75 96.07 L610.12 95.73 L610.49 95.4 L610.86 95.06 L611.23 94.73 L611.6 94.39 L611.97 94.06 L612.34 93.72 L612.7 93.38 L613.07 93.04 L613.43 92.7 L613.8 92.36 L614.16 92.02 L614.53 91.68 L614.9 91.34 L615.27 91.01 L615.64 90.67 L616.01 90.34 L616.39 90.01 L616.77 89.69 L617.15 89.36 L617.53 89.04 L617.92 88.73 L618.31 88.42 L618.7 88.11 L619.1 87.81 L619.5 87.51 L619.9 87.22 L620.31 86.93 L620.72 86.64 L621.13 86.36 L621.55 86.08 L621.96 85.81 L622.38 85.53 L622.8 85.26 L623.22 84.99 L623.64 84.73 L624.06 84.46 L624.49 84.2 L624.91 83.93 L625.33 83.67 L625.76 83.4 L626.18 83.13 L626.6 82.87 L627.02 82.6 L627.45 82.34 L627.87 82.07 L628.3 81.81 L628.72 81.55 L629.15 81.29 L629.57 81.03 L630 80.77 L630.43 80.52 L630.86 80.27 L631.3 80.02 L631.73 79.78 L632.17 79.54 L632.61 79.31 L633.05 79.08 L633.5 78.85 L633.95 78.64 L634.4 78.43 L634.86 78.22 L635.31 78.02 L635.77 77.83 L636.24 77.64 L636.7 77.46 L637.17 77.28 L637.63 77.11 L638.1 76.94 L638.58 76.78 L639.05 76.62 L639.53 76.48 L640.01 76.34 L640.49 76.21 L640.97 76.08 L641.46 75.97 L641.94 75.86 L642.43 75.76 L642.92 75.67 L643.41 75.58 L643.91 75.49 L644.4 75.41 L644.89 75.34 L645.39 75.26 L645.88 75.19 L646.37 75.13 L646.87 75.06 L647.36 75 L647.86 74.94 L648.36 74.88 L648.85 74.83 L649.35 74.77 L649.85 74.72 L650.34 74.67 L650.84 74.62 L651.34 74.57 L651.83 74.52 L652.33 74.48 L652.83 74.43 L653.32 74.38 L653.82 74.34 L654.32 74.3 L654.82 74.25 L655.31 74.21 L655.81 74.17 L656.31 74.13 L656.81 74.09 L657.3 74.05 L657.8 74.01 L658.3 73.98 L658.8 73.94 L659.3 73.91 L659.79 73.87 L660.29 73.84 L660.79 73.81 L661.29 73.78 L661.79 73.75 L662.29 73.73 L662.79 73.7 L663.28 73.68 L663.78 73.65 L664.28 73.63 L664.78 73.61 L665.28 73.59 L665.78 73.57 L666.28 73.56 L666.78 73.54 L667.27 73.52 L667.77 73.5 L668.27 73.49 L668.77 73.47 L669.27 73.45 L669.77 73.44 L670.27 73.42 L670.77 73.4 L671.27 73.39 L671.77 73.37 L672.27 73.36 L672.76 73.35 L673.26 73.33 L673.76 73.32 L674.26 73.31 L674.76 73.29 L675.26 73.28 L675.76 73.27 L676.26 73.26 L676.76 73.25 L677.26 73.25 L677.76 73.24 L678.26 73.23 L678.75 73.22 L679.25 73.22 L679.75 73.21 L680.25 73.21 L680.75 73.21 L681.25 73.2 L681.75 73.2 L682 73.2" fill="none" stroke="#ff3b3b" stroke-width="0.95" stroke-linejoin="round" clip-path="url(#p3)" />
<path d="M500.2 68.5 L501.7 68.61 L503.19 68.72 L504.69 68.84 L506.18 68.96 L507.68 69.08 L509.17 69.2 L510.66 69.32 L512.16 69.45 L513.65 69.58 L515.15 69.72 L516.64 69.85 L518.13 69.99 L519.63 70.13 L521.12 70.27 L522.61 70.42 L524.1 70.56 L525.6 70.71 L527.09 70.86 L528.58 71.01 L530.07 71.16 L531.56 71.32 L533.05 71.48 L534.54 71.64 L536.03 71.81 L537.52 71.97 L539.01 72.15 L540.5 72.32 L541.99 72.5 L543.48 72.68 L544.97 72.87 L546.46 73.06 L547.94 73.25 L549.43 73.45 L550.92 73.65 L552.4 73.86 L553.88 74.08 L555.37 74.3 L556.85 74.53 L558.33 74.76 L559.81 75 L561.29 75.24 L562.77 75.48 L564.25 75.73 L565.73 75.97 L567.21 76.21 L568.69 76.44 L570.17 76.68 L571.65 76.91 L573.13 77.15 L574.61 77.4 L576.09 77.64 L577.57 77.89 L579.05 78.13 L580.53 78.37 L582.02 78.58 L583.5 78.78 L584.99 78.95 L586.48 79.09 L587.98 79.21 L589.47 79.3 L590.97 79.36 L592.47 79.4 L593.97 79.4 L595.47 79.38 L596.97 79.34 L598.46 79.28 L599.96 79.21 L601.46 79.13 L602.96 79.04 L604.45 78.95 L605.2 78.9 L606.4 78.04 L606.6 77.9 L608.07 77.64 L609.55 77.39 L611.03 77.19 L612.52 77.02 L614.01 76.88 L615.5 76.75 L617 76.62 L618.49 76.48 L619.98 76.32 L621.47 76.15 L622.95 75.97 L624.44 75.79 L625.93 75.6 L627.41 75.41 L628.9 75.22 L630.39 75.04 L631.88 74.86 L633.36 74.69 L634.85 74.53 L636.34 74.38 L637.84 74.24 L639.33 74.11 L640.82 74 L642.32 73.89 L643.81 73.8 L645.31 73.71 L646.8 73.62 L648.3 73.53 L649.8 73.45 L651.29 73.38 L652.79 73.31 L654.29 73.24 L655.78 73.19 L657.28 73.13 L658.78 73.08 L660.28 73.04 L661.77 73 L663.27 72.96 L664.77 72.93 L666.27 72.9 L667.77 72.87 L669.26 72.84 L670.76 72.81 L672.26 72.79 L673.76 72.77 L675.26 72.75 L676.76 72.73 L678.25 72.72 L679.75 72.71 L681.25 72.7 L682 72.7" fill="none" stroke="#0000ff" stroke-width="1.8" stroke-linejoin="round" clip-path="url(#p3)" />
<path d="M500.2 67.5 L501.7 67.57 L503.19 67.65 L504.69 67.72 L506.19 67.79 L507.69 67.87 L509.18 67.94 L510.68 68.01 L512.18 68.08 L513.68 68.16 L515.17 68.23 L516.67 68.3 L518.17 68.37 L519.67 68.44 L521.16 68.51 L522.66 68.58 L524.16 68.65 L525.66 68.72 L527.15 68.79 L528.65 68.86 L530.15 68.92 L531.65 68.99 L533.14 69.06 L534.64 69.13 L536.14 69.19 L537.64 69.26 L539.13 69.33 L540.63 69.39 L542.13 69.46 L543.63 69.52 L545.13 69.59 L546.62 69.65 L548.12 69.72 L549.62 69.78 L551.12 69.85 L552.61 69.92 L554.11 69.99 L555.61 70.06 L557.11 70.13 L558.6 70.2 L560.1 70.27 L561.6 70.35 L563.1 70.42 L564.59 70.5 L566.09 70.57 L567.59 70.64 L569.08 70.72 L570.58 70.79 L572.08 70.86 L573.58 70.93 L575.07 71 L576.57 71.07 L578.07 71.14 L579.57 71.2 L581.07 71.26 L582.56 71.32 L584.06 71.37 L585.56 71.42 L587.06 71.47 L588.56 71.52 L590.06 71.56 L591.55 71.59 L593.05 71.62 L594.55 71.65 L596.05 71.67 L597.55 71.69 L599.05 71.71 L600.55 71.72 L602.05 71.73 L603.55 71.74 L605.05 71.76 L606.54 71.77 L608.04 71.78 L609.54 71.79 L611.04 71.8 L612.54 71.81 L614.04 71.82 L615.54 71.82 L617.04 71.83 L618.54 71.84 L620.04 71.85 L621.54 71.86 L623.03 71.86 L624.53 71.87 L626.03 71.87 L627.53 71.88 L629.03 71.88 L630.53 71.89 L632.03 71.89 L633.53 71.89 L635.03 71.9 L636.53 71.9 L638.03 71.9 L639.52 71.9 L641.02 71.9 L642.52 71.9 L644.02 71.9 L645.52 71.9 L647.02 71.9 L648.52 71.9 L650.02 71.9 L651.52 71.89 L653.02 71.89 L654.52 71.89 L656.02 71.89 L657.51 71.89 L659.01 71.88 L660.51 71.88 L662.01 71.88 L663.51 71.88 L665.01 71.87 L666.51 71.87 L668.01 71.86 L669.51 71.86 L671.01 71.85 L672.51 71.85 L674 71.84 L675.5 71.83 L677 71.83 L678.5 71.82 L680 71.81 L681.5 71.8 L682 71.8" fill="none" stroke="#14be14" stroke-width="1.35" stroke-linejoin="round" clip-path="url(#p3)" />
<path d="M500.2 66.8 L501.7 66.85 L503.2 66.9 L504.7 66.96 L506.2 67.01 L507.7 67.06 L509.2 67.11 L510.7 67.16 L512.2 67.21 L513.7 67.26 L515.2 67.31 L516.7 67.36 L518.2 67.41 L519.7 67.46 L521.2 67.51 L522.7 67.56 L524.2 67.61 L525.7 67.66 L527.2 67.71 L528.7 67.75 L530.2 67.8 L531.7 67.85 L533.2 67.89 L534.7 67.94 L536.2 67.99 L537.7 68.03 L539.2 68.08 L540.7 68.12 L542.2 68.17 L543.7 68.21 L545.2 68.26 L546.7 68.3 L548.2 68.35 L549.7 68.39 L551.2 68.43 L552.7 68.48 L554.2 68.52 L555.7 68.56 L557.2 68.6 L558.7 68.64 L560.2 68.68 L561.7 68.73 L563.2 68.77 L564.71 68.81 L566.21 68.85 L567.71 68.89 L569.21 68.92 L570.71 68.96 L572.21 69 L573.71 69.04 L575.21 69.08 L576.71 69.11 L578.21 69.15 L579.71 69.19 L581.21 69.22 L582.71 69.26 L584.21 69.29 L585.71 69.33 L587.21 69.36 L588.71 69.4 L590.21 69.43 L591.71 69.46 L593.21 69.5 L594.71 69.53 L596.21 69.56 L597.71 69.59 L599.21 69.63 L600.72 69.66 L602.22 69.69 L603.72 69.72 L605.22 69.75 L606.72 69.78 L608.22 69.81 L609.72 69.84 L611.22 69.87 L612.72 69.9 L614.22 69.93 L615.72 69.96 L617.22 69.99 L618.72 70.02 L620.22 70.05 L621.72 70.07 L623.22 70.1 L624.72 70.13 L626.22 70.16 L627.73 70.19 L629.23 70.21 L630.73 70.24 L632.23 70.27 L633.73 70.29 L635.23 70.32 L636.73 70.35 L638.23 70.37 L639.73 70.4 L641.23 70.42 L642.73 70.45 L644.23 70.47 L645.73 70.5 L647.23 70.52 L648.73 70.55 L650.23 70.57 L651.74 70.59 L653.24 70.62 L654.74 70.64 L656.24 70.66 L657.74 70.68 L659.24 70.71 L660.74 70.73 L662.24 70.75 L663.74 70.77 L665.24 70.79 L666.74 70.81 L668.24 70.83 L669.74 70.85 L671.24 70.87 L672.75 70.89 L674.25 70.91 L675.75 70.93 L677.25 70.94 L678.75 70.96 L680.25 70.98 L681.75 71 L682 71" fill="none" stroke="#00e8ee" stroke-width="1.15" stroke-linejoin="round" clip-path="url(#p3)" />
<path d="M500.2 66 L501.7 66.03 L503.2 66.07 L504.7 66.1 L506.2 66.13 L507.7 66.17 L509.2 66.2 L510.7 66.23 L512.2 66.27 L513.7 66.3 L515.21 66.33 L516.71 66.37 L518.21 66.4 L519.71 66.44 L521.21 66.47 L522.71 66.51 L524.21 66.54 L525.71 66.57 L527.21 66.61 L528.71 66.64 L530.21 66.68 L531.71 66.71 L533.21 66.75 L534.71 66.78 L536.21 66.82 L537.71 66.85 L539.21 66.89 L540.71 66.92 L542.21 66.96 L543.71 66.99 L545.21 67.03 L546.72 67.06 L548.22 67.1 L549.72 67.13 L551.22 67.17 L552.72 67.2 L554.22 67.24 L555.72 67.27 L557.22 67.31 L558.72 67.34 L560.22 67.38 L561.72 67.42 L563.22 67.45 L564.72 67.49 L566.22 67.52 L567.72 67.56 L569.22 67.6 L570.72 67.63 L572.22 67.67 L573.72 67.7 L575.22 67.74 L576.72 67.78 L578.22 67.81 L579.72 67.85 L581.23 67.89 L582.73 67.92 L584.23 67.96 L585.73 68 L587.23 68.03 L588.73 68.07 L590.23 68.11 L591.73 68.14 L593.23 68.18 L594.73 68.22 L596.23 68.26 L597.73 68.29 L599.23 68.33 L600.73 68.37 L602.23 68.41 L603.73 68.44 L605.23 68.48 L606.73 68.52 L608.23 68.56 L609.73 68.59 L611.23 68.63 L612.73 68.67 L614.23 68.71 L615.73 68.75 L617.24 68.78 L618.74 68.82 L620.24 68.86 L621.74 68.9 L623.24 68.94 L624.74 68.98 L626.24 69.01 L627.74 69.05 L629.24 69.09 L630.74 69.13 L632.24 69.17 L633.74 69.21 L635.24 69.25 L636.74 69.29 L638.24 69.33 L639.74 69.37 L641.24 69.41 L642.74 69.44 L644.24 69.48 L645.74 69.52 L647.24 69.56 L648.74 69.6 L650.24 69.64 L651.74 69.68 L653.24 69.72 L654.74 69.76 L656.24 69.8 L657.74 69.84 L659.25 69.88 L660.75 69.92 L662.25 69.96 L663.75 70 L665.25 70.04 L666.75 70.08 L668.25 70.13 L669.75 70.17 L671.25 70.21 L672.75 70.25 L674.25 70.29 L675.75 70.33 L677.25 70.37 L678.75 70.41 L680.25 70.45 L681.75 70.49 L682 70.5" fill="none" stroke="#000000" stroke-width="1.25" stroke-linejoin="round" clip-path="url(#p3)" />
<line x1="605.9" y1="67.3" x2="605.9" y2="79.6" stroke="#fff" stroke-width="1.2" stroke-opacity="0.72"/>
<path d="M499.7 199.7 v-5 M499.7 59.25 v5 M530.08 199.7 v-2.5 M530.08 59.25 v2.5 M560.47 199.7 v-5 M560.47 59.25 v5 M590.85 199.7 v-2.5 M590.85 59.25 v2.5 M621.23 199.7 v-5 M621.23 59.25 v5 M651.62 199.7 v-2.5 M651.62 59.25 v2.5 M682 199.7 v-5 M682 59.25 v5 M499.7 192.14 h5 M682 192.14 h-5 M499.7 173.12 h2.5 M682 173.12 h-2.5 M499.7 154.11 h5 M682 154.11 h-5 M499.7 135.09 h2.5 M682 135.09 h-2.5 M499.7 116.08 h5 M682 116.08 h-5 M499.7 97.06 h2.5 M682 97.06 h-2.5 M499.7 78.05 h5 M682 78.05 h-5" stroke="#1c1c1c" stroke-width="1.25" fill="none"/>
<path d="M499.12 59.25 H682.7" stroke="#1c1c1c" stroke-width="1.45" fill="none"/>
<path d="M499.12 199.7 H682.7" stroke="#1c1c1c" stroke-width="1.65" fill="none"/>
<path d="M499.7 58.55 V200.5" stroke="#1c1c1c" stroke-width="1.15" fill="none"/>
<path d="M682 58.55 V200.5" stroke="#1c1c1c" stroke-width="1.4" fill="none"/>
<text transform="translate(493.7 81.3) scale(0.98 1)" text-anchor="end">0</text>
<text transform="translate(493.7 119.33) scale(0.98 1)" text-anchor="end">-1</text>
<text transform="translate(493.7 157.36) scale(0.98 1)" text-anchor="end">-2</text>
<text transform="translate(493.7 195.39) scale(0.98 1)" text-anchor="end">-3</text>
<text transform="translate(501 213.1) scale(0.98 1)" text-anchor="middle">2.4</text>
<text transform="translate(561.77 213.1) scale(0.98 1)" text-anchor="middle">2.6</text>
<text transform="translate(622.53 213.1) scale(0.98 1)" text-anchor="middle">2.8</text>
<text transform="translate(683.3 213.1) scale(0.98 1)" text-anchor="middle">3</text>
<text transform="translate(588.15 227.5) scale(0.93 1)" text-anchor="middle" class="b" font-size="10.6">Photon energy, eV</text>
<text transform="translate(526.2 135.3) scale(0.93 1)" text-anchor="middle" class="b" font-size="10.6">Sr 5s</text>
<text transform="translate(529.3 144.5) scale(0.98 1)" text-anchor="end">θ=10</text>
<line x1="535" y1="141.3" x2="541.6" y2="141.3" stroke="#262626" stroke-width="1.15"/>
<text transform="translate(529.3 154.3) scale(0.98 1)" text-anchor="end">15</text>
<line x1="535" y1="151.1" x2="541.6" y2="151.1" stroke="#ff8a8a" stroke-width="1"/>
<text transform="translate(529.3 164.1) scale(0.98 1)" text-anchor="end">30</text>
<line x1="535" y1="160.9" x2="541.6" y2="160.9" stroke="#5a5aff" stroke-width="0.9"/>
<circle cx="538.3" cy="160.9" r="0.9" fill="#0000ff"/>
<text transform="translate(529.3 173.7) scale(0.98 1)" text-anchor="end">45</text>
<line x1="535" y1="170.5" x2="541.6" y2="170.5" stroke="#40c840" stroke-width="0.7"/>
<circle cx="538.3" cy="170.5" r="0.6" fill="#14be14"/>
<text transform="translate(529.3 183.4) scale(0.98 1)" text-anchor="end">60</text>
<line x1="535" y1="180.2" x2="541.6" y2="180.2" stroke="#40f0f0" stroke-width="0.9"/>
<circle cx="538.3" cy="180.2" r="0.6" fill="#00e8e8"/>
<text transform="translate(529.3 193.2) scale(0.98 1)" text-anchor="end">75</text>
<line x1="535" y1="190" x2="541.6" y2="190" stroke="#777" stroke-width="0.7"/>
<circle cx="538.3" cy="190" r="0.6" fill="#333"/>
<line x1="702.1" y1="78" x2="884.4" y2="78" stroke="#7a7a7a" stroke-width="0.9" stroke-dasharray="1.1 1.4"/>
<path d="M702.1 67.2 L702.59 67.28 L703.09 67.35 L703.58 67.43 L704.08 67.51 L704.57 67.59 L705.06 67.67 L705.56 67.75 L706.05 67.84 L706.54 67.93 L707.03 68.02 L707.52 68.11 L708.01 68.21 L708.5 68.3 L708.99 68.4 L709.48 68.5 L709.97 68.6 L710.46 68.71 L710.95 68.81 L711.44 68.92 L711.93 69.03 L712.41 69.15 L712.9 69.26 L713.39 69.38 L713.87 69.5 L714.36 69.62 L714.84 69.75 L715.32 69.88 L715.81 70.01 L716.29 70.14 L716.77 70.28 L717.25 70.42 L717.73 70.56 L718.21 70.71 L718.68 70.86 L719.16 71.01 L719.63 71.17 L720.1 71.33 L720.57 71.5 L721.04 71.68 L721.51 71.86 L721.97 72.04 L722.43 72.24 L722.89 72.43 L723.34 72.64 L723.8 72.84 L724.25 73.06 L724.7 73.27 L725.15 73.49 L725.6 73.71 L726.05 73.94 L726.49 74.16 L726.94 74.39 L727.38 74.62 L727.82 74.86 L728.26 75.09 L728.7 75.33 L729.14 75.57 L729.58 75.81 L730.01 76.06 L730.44 76.31 L730.88 76.56 L731.3 76.82 L731.73 77.08 L732.15 77.35 L732.58 77.62 L732.99 77.89 L733.41 78.16 L733.83 78.44 L734.24 78.72 L734.65 79.01 L735.06 79.3 L735.46 79.59 L735.87 79.88 L736.27 80.18 L736.67 80.48 L737.06 80.79 L737.46 81.09 L737.85 81.4 L738.24 81.72 L738.63 82.03 L739.01 82.35 L739.39 82.68 L739.77 83 L740.15 83.33 L740.52 83.67 L740.89 84 L741.25 84.34 L741.62 84.69 L741.97 85.03 L742.33 85.39 L742.68 85.74 L743.03 86.1 L743.37 86.46 L743.72 86.82 L744.05 87.19 L744.39 87.56 L744.72 87.94 L745.05 88.31 L745.38 88.69 L745.7 89.07 L746.02 89.45 L746.34 89.84 L746.66 90.22 L746.98 90.61 L747.29 91 L747.6 91.39 L747.91 91.79 L748.22 92.18 L748.52 92.58 L748.83 92.97 L749.13 93.37 L749.42 93.78 L749.72 94.18 L750.01 94.59 L750.3 94.99 L750.58 95.41 L750.86 95.82 L751.14 96.23 L751.41 96.65 L751.68 97.07 L751.94 97.5 L752.21 97.92 L752.46 98.35 L752.72 98.78 L752.96 99.22 L753.21 99.65 L753.45 100.09 L753.69 100.53 L753.92 100.97 L754.15 101.42 L754.38 101.86 L754.6 102.31 L754.82 102.76 L755.04 103.21 L755.25 103.66 L755.47 104.11 L755.68 104.56 L755.89 105.02 L756.09 105.47 L756.3 105.93 L756.5 106.39 L756.7 106.85 L756.9 107.3 L757.09 107.76 L757.28 108.23 L757.47 108.69 L757.66 109.15 L757.85 109.62 L758.03 110.08 L758.21 110.55 L758.39 111.01 L758.57 111.48 L758.75 111.95 L758.92 112.42 L759.09 112.89 L759.27 113.36 L759.43 113.83 L759.6 114.3 L759.77 114.77 L759.94 115.24 L760.1 115.71 L760.26 116.18 L760.42 116.66 L760.58 117.13 L760.74 117.61 L760.89 118.08 L761.05 118.56 L761.2 119.03 L761.35 119.51 L761.5 119.99 L761.65 120.46 L761.8 120.94 L761.95 121.42 L762.09 121.9 L762.24 122.38 L762.39 122.85 L762.53 123.33 L762.68 123.81 L762.83 124.29 L762.98 124.77 L763.12 125.24 L763.27 125.72 L763.42 126.2 L763.57 126.68 L763.71 127.15 L763.86 127.63 L764.01 128.11 L764.16 128.59 L764.31 129.06 L764.46 129.54 L764.61 130.02 L764.76 130.5 L764.91 130.97 L765.06 131.45 L765.21 131.93 L765.36 132.4 L765.51 132.88 L765.66 133.36 L765.81 133.83 L765.97 134.31 L766.12 134.78 L766.27 135.26 L766.42 135.74 L766.58 136.21 L766.73 136.69 L766.89 137.16 L767.04 137.64 L767.19 138.12 L767.35 138.59 L767.5 139.07 L767.66 139.54 L767.81 140.02 L767.97 140.49 L768.12 140.97 L768.28 141.44 L768.44 141.92 L768.59 142.39 L768.75 142.87 L768.91 143.34 L769.06 143.82 L769.22 144.29 L769.37 144.77 L769.53 145.24 L769.68 145.72 L769.83 146.2 L769.98 146.67 L770.13 147.15 L770.28 147.63 L770.42 148.11 L770.57 148.59 L770.71 149.06 L770.85 149.54 L770.99 150.02 L771.13 150.5 L771.27 150.98 L771.41 151.46 L771.55 151.94 L771.69 152.42 L771.83 152.9 L771.98 153.38 L772.12 153.86 L772.26 154.34 L772.41 154.82 L772.55 155.3 L772.7 155.78 L772.85 156.25 L772.99 156.73 L773.14 157.21 L773.3 157.69 L773.45 158.16 L773.6 158.64 L773.75 159.11 L773.91 159.59 L774.07 160.06 L774.22 160.54 L774.38 161.01 L774.55 161.48 L774.71 161.96 L774.88 162.43 L775.04 162.9 L775.22 163.37 L775.39 163.84 L775.57 164.3 L775.75 164.77 L775.94 165.23 L776.13 165.69 L776.33 166.15 L776.53 166.61 L776.73 167.06 L776.95 167.51 L777.17 167.96 L777.39 168.4 L777.63 168.84 L777.88 169.26 L778.14 169.68 L778.42 170.08 L778.71 170.47 L779.02 170.84 L779.34 171.2 L779.67 171.55 L780 171.9 L780.34 171.55 L780.67 171.2 L780.99 170.84 L781.29 170.47 L781.59 170.08 L781.87 169.68 L782.13 169.27 L782.38 168.84 L782.63 168.41 L782.86 167.97 L783.09 167.53 L783.31 167.08 L783.52 166.63 L783.73 166.18 L783.93 165.72 L784.12 165.26 L784.31 164.8 L784.5 164.33 L784.67 163.87 L784.85 163.4 L785.01 162.93 L785.18 162.45 L785.34 161.98 L785.5 161.51 L785.66 161.03 L785.82 160.56 L785.98 160.09 L786.14 159.61 L786.3 159.14 L786.46 158.66 L786.62 158.19 L786.78 157.72 L786.94 157.24 L787.1 156.77 L787.26 156.3 L787.42 155.82 L787.58 155.35 L787.74 154.87 L787.9 154.4 L788.06 153.93 L788.22 153.45 L788.38 152.98 L788.55 152.51 L788.71 152.03 L788.87 151.56 L789.03 151.09 L789.19 150.61 L789.35 150.14 L789.51 149.66 L789.67 149.19 L789.82 148.72 L789.98 148.24 L790.14 147.77 L790.3 147.29 L790.46 146.82 L790.62 146.34 L790.77 145.87 L790.93 145.39 L791.09 144.92 L791.24 144.44 L791.4 143.97 L791.56 143.49 L791.71 143.02 L791.87 142.54 L792.02 142.07 L792.18 141.59 L792.33 141.12 L792.48 140.64 L792.64 140.16 L792.79 139.69 L792.94 139.21 L793.09 138.73 L793.24 138.26 L793.39 137.78 L793.54 137.3 L793.69 136.82 L793.84 136.35 L793.99 135.87 L794.13 135.39 L794.28 134.91 L794.43 134.44 L794.58 133.96 L794.72 133.48 L794.87 133 L795.02 132.52 L795.16 132.04 L795.3 131.57 L795.45 131.09 L795.59 130.61 L795.73 130.13 L795.88 129.65 L796.02 129.17 L796.16 128.69 L796.3 128.21 L796.44 127.73 L796.58 127.25 L796.73 126.77 L796.87 126.29 L797.01 125.81 L797.15 125.33 L797.3 124.85 L797.44 124.37 L797.59 123.9 L797.73 123.42 L797.88 122.94 L798.02 122.46 L798.17 121.98 L798.32 121.5 L798.47 121.03 L798.61 120.55 L798.76 120.07 L798.91 119.59 L799.07 119.12 L799.22 118.64 L799.37 118.17 L799.53 117.69 L799.69 117.22 L799.84 116.74 L800 116.27 L800.17 115.8 L800.33 115.32 L800.5 114.85 L800.67 114.38 L800.84 113.91 L801.01 113.44 L801.18 112.97 L801.36 112.5 L801.54 112.04 L801.72 111.57 L801.9 111.1 L802.08 110.64 L802.27 110.18 L802.46 109.71 L802.65 109.25 L802.85 108.79 L803.05 108.33 L803.25 107.88 L803.46 107.42 L803.67 106.97 L803.89 106.52 L804.11 106.07 L804.34 105.63 L804.57 105.19 L804.81 104.74 L805.05 104.31 L805.29 103.87 L805.54 103.44 L805.79 103.01 L806.05 102.58 L806.31 102.15 L806.58 101.73 L806.85 101.31 L807.12 100.89 L807.41 100.48 L807.69 100.07 L807.98 99.67 L808.28 99.27 L808.59 98.87 L808.9 98.48 L809.22 98.1 L809.55 97.72 L809.88 97.35 L810.22 96.98 L810.56 96.62 L810.91 96.27 L811.26 95.91 L811.62 95.56 L811.98 95.22 L812.34 94.87 L812.7 94.52 L813.06 94.17 L813.42 93.83 L813.77 93.47 L814.13 93.12 L814.48 92.76 L814.83 92.41 L815.17 92.05 L815.52 91.69 L815.87 91.33 L816.22 90.97 L816.56 90.61 L816.92 90.26 L817.27 89.9 L817.63 89.56 L817.99 89.21 L818.36 88.88 L818.73 88.55 L819.11 88.22 L819.5 87.91 L819.89 87.6 L820.29 87.3 L820.69 87 L821.1 86.72 L821.51 86.43 L821.93 86.16 L822.35 85.89 L822.77 85.62 L823.2 85.36 L823.63 85.11 L824.06 84.86 L824.49 84.61 L824.93 84.36 L825.37 84.12 L825.81 83.88 L826.25 83.65 L826.69 83.42 L827.13 83.19 L827.58 82.96 L828.03 82.73 L828.47 82.51 L828.92 82.29 L829.37 82.07 L829.82 81.86 L830.28 81.65 L830.73 81.44 L831.19 81.23 L831.65 81.04 L832.11 80.84 L832.57 80.65 L833.03 80.46 L833.5 80.28 L833.97 80.11 L834.44 79.94 L834.91 79.77 L835.38 79.61 L835.86 79.45 L836.33 79.3 L836.81 79.15 L837.29 79.01 L837.77 78.87 L838.25 78.73 L838.73 78.59 L839.21 78.46 L839.69 78.33 L840.18 78.21 L840.66 78.09 L841.15 77.97 L841.63 77.85 L842.12 77.74 L842.61 77.63 L843.1 77.52 L843.59 77.41 L844.07 77.3 L844.56 77.2 L845.05 77.1 L845.54 77 L846.03 76.9 L846.53 76.81 L847.02 76.72 L847.51 76.63 L848 76.54 L848.49 76.46 L848.99 76.38 L849.48 76.3 L849.98 76.23 L850.47 76.16 L850.97 76.09 L851.46 76.03 L851.96 75.97 L852.46 75.91 L852.95 75.86 L853.45 75.8 L853.95 75.75 L854.45 75.7 L854.94 75.65 L855.44 75.61 L855.94 75.56 L856.44 75.52 L856.94 75.47 L857.43 75.43 L857.93 75.39 L858.43 75.35 L858.93 75.31 L859.43 75.27 L859.93 75.23 L860.42 75.19 L860.92 75.16 L861.42 75.12 L861.92 75.09 L862.42 75.05 L862.92 75.02 L863.42 74.99 L863.92 74.95 L864.42 74.92 L864.92 74.89 L865.42 74.86 L865.91 74.83 L866.41 74.8 L866.91 74.77 L867.41 74.74 L867.91 74.72 L868.41 74.69 L868.91 74.66 L869.41 74.63 L869.91 74.61 L870.41 74.58 L870.91 74.55 L871.41 74.53 L871.91 74.5 L872.41 74.48 L872.91 74.45 L873.41 74.43 L873.91 74.41 L874.4 74.38 L874.9 74.36 L875.4 74.34 L875.9 74.31 L876.4 74.29 L876.9 74.27 L877.4 74.25 L877.9 74.23 L878.4 74.21 L878.9 74.19 L879.4 74.17 L879.9 74.15 L880.4 74.13 L880.9 74.11 L881.4 74.1 L881.9 74.08 L882.4 74.06 L882.9 74.05 L883.4 74.03 L883.9 74.02 L884.4 74" fill="none" stroke="#262626" stroke-width="1.15" stroke-linejoin="round" clip-path="url(#p4)" />
<path d="M702.1 67.2 L702.6 67.27 L703.09 67.34 L703.59 67.41 L704.08 67.48 L704.58 67.56 L705.07 67.63 L705.57 67.71 L706.06 67.78 L706.55 67.86 L707.05 67.94 L707.54 68.02 L708.03 68.1 L708.53 68.19 L709.02 68.27 L709.51 68.36 L710.01 68.44 L710.5 68.53 L710.99 68.62 L711.48 68.71 L711.98 68.8 L712.47 68.89 L712.96 68.99 L713.45 69.08 L713.94 69.18 L714.43 69.27 L714.92 69.37 L715.41 69.47 L715.9 69.57 L716.39 69.68 L716.88 69.79 L717.37 69.9 L717.85 70.01 L718.34 70.13 L718.83 70.25 L719.31 70.38 L719.79 70.51 L720.27 70.64 L720.75 70.78 L721.23 70.93 L721.7 71.09 L722.18 71.25 L722.65 71.42 L723.11 71.59 L723.58 71.78 L724.04 71.96 L724.5 72.16 L724.96 72.36 L725.42 72.56 L725.87 72.77 L726.33 72.98 L726.78 73.19 L727.23 73.41 L727.68 73.62 L728.13 73.84 L728.58 74.06 L729.03 74.28 L729.48 74.5 L729.93 74.72 L730.38 74.94 L730.83 75.16 L731.27 75.38 L731.72 75.6 L732.17 75.82 L732.62 76.04 L733.07 76.26 L733.52 76.48 L733.97 76.71 L734.41 76.94 L734.86 77.17 L735.3 77.4 L735.74 77.64 L736.17 77.89 L736.6 78.14 L737.03 78.39 L737.46 78.65 L737.89 78.91 L738.31 79.18 L738.73 79.45 L739.14 79.73 L739.56 80.01 L739.97 80.29 L740.38 80.58 L740.79 80.86 L741.2 81.15 L741.61 81.44 L742.01 81.74 L742.42 82.03 L742.82 82.33 L743.22 82.63 L743.62 82.93 L744.02 83.23 L744.42 83.53 L744.81 83.84 L745.21 84.15 L745.6 84.46 L745.99 84.77 L746.38 85.08 L746.77 85.4 L747.16 85.71 L747.54 86.03 L747.93 86.35 L748.31 86.67 L748.7 86.99 L749.08 87.32 L749.46 87.64 L749.84 87.97 L750.21 88.3 L750.59 88.63 L750.96 88.96 L751.34 89.29 L751.71 89.63 L752.07 89.97 L752.44 90.31 L752.8 90.65 L753.16 91 L753.52 91.35 L753.87 91.71 L754.22 92.06 L754.57 92.42 L754.91 92.79 L755.25 93.16 L755.58 93.53 L755.91 93.9 L756.24 94.28 L756.56 94.66 L756.88 95.05 L757.2 95.43 L757.51 95.82 L757.82 96.21 L758.13 96.61 L758.44 97 L758.75 97.4 L759.05 97.79 L759.36 98.19 L759.66 98.59 L759.96 98.98 L760.27 99.38 L760.57 99.78 L760.88 100.17 L761.19 100.57 L761.49 100.96 L761.8 101.36 L762.11 101.75 L762.42 102.14 L762.74 102.53 L763.05 102.92 L763.37 103.31 L763.69 103.7 L764 104.08 L764.32 104.47 L764.64 104.85 L764.96 105.24 L765.28 105.62 L765.6 106 L765.93 106.39 L766.25 106.77 L766.57 107.15 L766.9 107.53 L767.23 107.91 L767.56 108.28 L767.89 108.66 L768.22 109.03 L768.55 109.41 L768.89 109.78 L769.22 110.15 L769.56 110.52 L769.9 110.88 L770.24 111.25 L770.58 111.62 L770.93 111.98 L771.27 112.34 L771.62 112.69 L771.98 113.05 L772.34 113.39 L772.7 113.73 L773.08 114.05 L773.46 114.37 L773.85 114.67 L774.26 114.96 L774.67 115.24 L775.09 115.5 L775.51 115.75 L775.95 115.99 L776.39 116.21 L776.84 116.41 L777.3 116.6 L777.76 116.77 L778.23 116.93 L778.71 117.08 L779.18 117.21 L779.66 117.34 L779.9 117.4 L780.38 117.28 L780.86 117.16 L781.34 117.02 L781.81 116.88 L782.28 116.72 L782.74 116.55 L783.2 116.36 L783.65 116.16 L784.1 115.95 L784.54 115.72 L784.97 115.48 L785.4 115.23 L785.82 114.97 L786.24 114.69 L786.64 114.41 L787.04 114.11 L787.43 113.8 L787.82 113.49 L788.19 113.16 L788.57 112.83 L788.93 112.49 L789.29 112.15 L789.65 111.8 L790.01 111.45 L790.36 111.09 L790.7 110.73 L791.05 110.37 L791.39 110.01 L791.72 109.64 L792.06 109.27 L792.39 108.89 L792.71 108.51 L793.04 108.13 L793.36 107.75 L793.68 107.36 L793.99 106.98 L794.31 106.59 L794.63 106.21 L794.95 105.82 L795.26 105.44 L795.58 105.05 L795.9 104.67 L796.22 104.28 L796.55 103.9 L796.87 103.52 L797.2 103.14 L797.52 102.77 L797.85 102.39 L798.18 102.01 L798.51 101.64 L798.84 101.26 L799.17 100.89 L799.5 100.51 L799.83 100.14 L800.16 99.76 L800.49 99.39 L800.83 99.02 L801.16 98.65 L801.5 98.27 L801.83 97.9 L802.17 97.54 L802.51 97.17 L802.85 96.8 L803.19 96.44 L803.54 96.08 L803.88 95.72 L804.24 95.37 L804.59 95.02 L804.95 94.67 L805.31 94.32 L805.67 93.98 L806.04 93.65 L806.42 93.32 L806.8 92.99 L807.18 92.67 L807.56 92.35 L807.95 92.04 L808.35 91.73 L808.74 91.43 L809.14 91.13 L809.55 90.84 L809.95 90.54 L810.36 90.26 L810.77 89.97 L811.18 89.69 L811.6 89.41 L812.01 89.14 L812.43 88.87 L812.85 88.6 L813.28 88.33 L813.7 88.07 L814.13 87.81 L814.55 87.55 L814.98 87.29 L815.41 87.03 L815.84 86.78 L816.27 86.52 L816.7 86.27 L817.13 86.02 L817.57 85.77 L818 85.52 L818.43 85.27 L818.87 85.02 L819.3 84.78 L819.74 84.53 L820.17 84.29 L820.61 84.05 L821.05 83.81 L821.49 83.57 L821.93 83.34 L822.37 83.11 L822.82 82.88 L823.27 82.67 L823.72 82.45 L824.17 82.24 L824.63 82.03 L825.08 81.83 L825.54 81.64 L826 81.44 L826.46 81.25 L826.93 81.06 L827.39 80.88 L827.86 80.7 L828.32 80.52 L828.79 80.34 L829.26 80.17 L829.73 80 L830.2 79.83 L830.67 79.67 L831.14 79.51 L831.62 79.35 L832.09 79.2 L832.57 79.05 L833.05 78.9 L833.53 78.76 L834.01 78.63 L834.49 78.5 L834.97 78.37 L835.46 78.25 L835.94 78.13 L836.43 78.02 L836.92 77.91 L837.4 77.8 L837.89 77.7 L838.38 77.6 L838.87 77.5 L839.36 77.41 L839.85 77.31 L840.34 77.22 L840.84 77.13 L841.33 77.05 L841.82 76.96 L842.31 76.88 L842.81 76.8 L843.3 76.72 L843.79 76.64 L844.29 76.56 L844.78 76.49 L845.28 76.42 L845.77 76.35 L846.27 76.28 L846.76 76.21 L847.26 76.15 L847.75 76.08 L848.25 76.02 L848.74 75.96 L849.24 75.9 L849.74 75.84 L850.23 75.79 L850.73 75.74 L851.23 75.68 L851.72 75.63 L852.22 75.58 L852.72 75.54 L853.22 75.49 L853.71 75.45 L854.21 75.4 L854.71 75.36 L855.21 75.32 L855.7 75.28 L856.2 75.24 L856.7 75.2 L857.2 75.16 L857.7 75.12 L858.2 75.08 L858.69 75.05 L859.19 75.01 L859.69 74.98 L860.19 74.94 L860.69 74.91 L861.19 74.88 L861.69 74.85 L862.18 74.82 L862.68 74.79 L863.18 74.76 L863.68 74.73 L864.18 74.7 L864.68 74.67 L865.18 74.64 L865.68 74.62 L866.17 74.59 L866.67 74.56 L867.17 74.54 L867.67 74.51 L868.17 74.49 L868.67 74.46 L869.17 74.44 L869.67 74.42 L870.17 74.4 L870.67 74.37 L871.17 74.35 L871.67 74.33 L872.16 74.31 L872.66 74.29 L873.16 74.27 L873.66 74.25 L874.16 74.23 L874.66 74.21 L875.16 74.19 L875.66 74.17 L876.16 74.15 L876.66 74.13 L877.16 74.11 L877.66 74.09 L878.16 74.08 L878.66 74.06 L879.16 74.04 L879.65 74.03 L880.15 74.01 L880.65 74 L881.15 73.98 L881.65 73.97 L882.15 73.96 L882.65 73.94 L883.15 73.93 L883.65 73.92 L884.15 73.91 L884.4 73.9" fill="none" stroke="#ff3b3b" stroke-width="0.95" stroke-linejoin="round" clip-path="url(#p4)" />
<path d="M702.1 65.2 L703.58 65.42 L705.07 65.64 L706.55 65.86 L708.03 66.09 L709.52 66.32 L711 66.55 L712.48 66.78 L713.96 67.02 L715.44 67.27 L716.92 67.51 L718.4 67.76 L719.88 68.01 L721.35 68.27 L722.83 68.53 L724.31 68.79 L725.78 69.06 L727.26 69.34 L728.73 69.61 L730.2 69.89 L731.68 70.18 L733.15 70.46 L734.62 70.75 L736.09 71.04 L737.57 71.33 L739.04 71.62 L740.51 71.91 L741.98 72.2 L743.45 72.5 L744.92 72.8 L746.39 73.09 L747.86 73.38 L749.34 73.66 L750.81 73.92 L752.29 74.18 L753.77 74.42 L755.25 74.66 L756.73 74.89 L758.21 75.12 L759.7 75.33 L761.18 75.54 L762.67 75.75 L764.16 75.95 L765.64 76.14 L767.13 76.33 L768.62 76.51 L770.11 76.7 L771.6 76.87 L773.09 77.03 L774.58 77.19 L776.07 77.33 L777.57 77.45 L779.06 77.56 L780.56 77.66 L782.06 77.74 L783.55 77.79 L785.05 77.8 L786.55 77.79 L788.05 77.75 L789.55 77.7 L791.05 77.64 L792.55 77.57 L794.04 77.49 L795.54 77.41 L797.04 77.33 L798.54 77.23 L800.03 77.13 L801.53 77.03 L803.02 76.92 L804.52 76.8 L806.01 76.68 L807.51 76.55 L809 76.41 L810.49 76.26 L811.99 76.12 L813.48 75.97 L814.97 75.83 L816.47 75.7 L817.96 75.57 L819.46 75.45 L820.95 75.34 L822.45 75.24 L823.95 75.15 L825.44 75.05 L826.94 74.97 L828.44 74.88 L829.93 74.81 L831.43 74.73 L832.93 74.66 L834.43 74.59 L835.93 74.53 L837.43 74.46 L838.92 74.4 L840.42 74.34 L841.92 74.28 L843.42 74.23 L844.92 74.17 L846.42 74.12 L847.92 74.07 L849.42 74.02 L850.92 73.97 L852.41 73.92 L853.91 73.87 L855.41 73.83 L856.91 73.78 L858.41 73.74 L859.91 73.69 L861.41 73.65 L862.91 73.61 L864.41 73.57 L865.91 73.52 L867.41 73.48 L868.91 73.44 L870.41 73.41 L871.9 73.37 L873.4 73.33 L874.9 73.3 L876.4 73.26 L877.9 73.23 L879.4 73.2 L880.9 73.17 L882.4 73.14 L883.9 73.11 L884.4 73.1" fill="none" stroke="#0000ff" stroke-width="1.8" stroke-linejoin="round" clip-path="url(#p4)" />
<path d="M702.1 63.8 L703.59 63.93 L705.09 64.07 L706.58 64.2 L708.08 64.33 L709.57 64.47 L711.07 64.6 L712.56 64.73 L714.06 64.85 L715.55 64.98 L717.05 65.11 L718.54 65.23 L720.04 65.36 L721.53 65.48 L723.03 65.61 L724.52 65.73 L726.02 65.85 L727.52 65.97 L729.01 66.09 L730.51 66.2 L732 66.32 L733.5 66.44 L735 66.55 L736.49 66.66 L737.99 66.78 L739.48 66.89 L740.98 67 L742.48 67.11 L743.97 67.21 L745.47 67.32 L746.97 67.43 L748.46 67.53 L749.96 67.64 L751.46 67.74 L752.95 67.84 L754.45 67.94 L755.95 68.04 L757.45 68.14 L758.94 68.24 L760.44 68.34 L761.94 68.44 L763.43 68.53 L764.93 68.63 L766.43 68.72 L767.93 68.82 L769.42 68.91 L770.92 69 L772.42 69.1 L773.92 69.19 L775.42 69.28 L776.91 69.36 L778.41 69.45 L779.91 69.54 L781.41 69.62 L782.91 69.7 L784.4 69.78 L785.9 69.86 L787.4 69.94 L788.9 70.01 L790.4 70.09 L791.9 70.16 L793.4 70.23 L794.89 70.29 L796.39 70.36 L797.89 70.42 L799.39 70.49 L800.89 70.55 L802.39 70.61 L803.89 70.67 L805.39 70.73 L806.89 70.78 L808.39 70.84 L809.89 70.89 L811.39 70.94 L812.89 70.99 L814.39 71.04 L815.89 71.08 L817.39 71.13 L818.89 71.17 L820.39 71.21 L821.89 71.25 L823.39 71.28 L824.89 71.32 L826.39 71.35 L827.89 71.39 L829.39 71.42 L830.89 71.45 L832.39 71.48 L833.89 71.51 L835.39 71.53 L836.89 71.56 L838.39 71.58 L839.89 71.6 L841.39 71.61 L842.89 71.63 L844.39 71.65 L845.89 71.66 L847.39 71.68 L848.89 71.69 L850.39 71.71 L851.89 71.72 L853.39 71.74 L854.89 71.75 L856.39 71.76 L857.89 71.77 L859.39 71.79 L860.89 71.8 L862.39 71.81 L863.89 71.82 L865.39 71.83 L866.89 71.84 L868.4 71.85 L869.9 71.86 L871.4 71.87 L872.9 71.87 L874.4 71.88 L875.9 71.88 L877.4 71.89 L878.9 71.89 L880.4 71.9 L881.9 71.9 L883.4 71.9 L884.4 71.9" fill="none" stroke="#14be14" stroke-width="1.35" stroke-linejoin="round" clip-path="url(#p4)" />
<path d="M702.1 62.5 L703.6 62.62 L705.09 62.74 L706.59 62.85 L708.08 62.97 L709.58 63.09 L711.07 63.2 L712.57 63.32 L714.07 63.43 L715.56 63.54 L717.06 63.65 L718.55 63.76 L720.05 63.87 L721.55 63.98 L723.04 64.09 L724.54 64.2 L726.04 64.31 L727.53 64.41 L729.03 64.52 L730.53 64.62 L732.02 64.72 L733.52 64.83 L735.02 64.93 L736.51 65.03 L738.01 65.13 L739.51 65.23 L741.01 65.32 L742.5 65.42 L744 65.52 L745.5 65.61 L746.99 65.71 L748.49 65.8 L749.99 65.89 L751.49 65.98 L752.98 66.07 L754.48 66.16 L755.98 66.25 L757.48 66.34 L758.97 66.43 L760.47 66.51 L761.97 66.6 L763.47 66.68 L764.97 66.76 L766.46 66.85 L767.96 66.93 L769.46 67.01 L770.96 67.09 L772.46 67.17 L773.96 67.25 L775.45 67.33 L776.95 67.41 L778.45 67.48 L779.95 67.56 L781.45 67.64 L782.95 67.71 L784.44 67.78 L785.94 67.86 L787.44 67.93 L788.94 68 L790.44 68.07 L791.94 68.14 L793.44 68.21 L794.93 68.28 L796.43 68.34 L797.93 68.41 L799.43 68.47 L800.93 68.54 L802.43 68.6 L803.93 68.67 L805.43 68.73 L806.93 68.79 L808.42 68.85 L809.92 68.91 L811.42 68.97 L812.92 69.03 L814.42 69.09 L815.92 69.15 L817.42 69.2 L818.92 69.26 L820.42 69.32 L821.92 69.37 L823.42 69.43 L824.92 69.48 L826.42 69.53 L827.91 69.59 L829.41 69.64 L830.91 69.69 L832.41 69.74 L833.91 69.8 L835.41 69.85 L836.91 69.9 L838.41 69.95 L839.91 70 L841.41 70.05 L842.91 70.09 L844.41 70.14 L845.91 70.19 L847.41 70.24 L848.91 70.29 L850.41 70.33 L851.91 70.38 L853.41 70.43 L854.91 70.47 L856.41 70.52 L857.9 70.57 L859.4 70.61 L860.9 70.66 L862.4 70.7 L863.9 70.74 L865.4 70.79 L866.9 70.83 L868.4 70.87 L869.9 70.92 L871.4 70.96 L872.9 71 L874.4 71.04 L875.9 71.08 L877.4 71.12 L878.9 71.16 L880.4 71.2 L881.9 71.24 L883.4 71.27 L884.4 71.3" fill="none" stroke="#00e8ee" stroke-width="1.2" stroke-linejoin="round" clip-path="url(#p4)" />
<path d="M702.1 61.5 L703.6 61.6 L705.09 61.7 L706.59 61.81 L708.09 61.91 L709.58 62.01 L711.08 62.11 L712.58 62.21 L714.08 62.31 L715.57 62.41 L717.07 62.51 L718.57 62.61 L720.06 62.71 L721.56 62.8 L723.06 62.9 L724.55 63 L726.05 63.1 L727.55 63.19 L729.05 63.29 L730.54 63.38 L732.04 63.48 L733.54 63.57 L735.04 63.67 L736.53 63.76 L738.03 63.86 L739.53 63.95 L741.03 64.04 L742.52 64.14 L744.02 64.23 L745.52 64.32 L747.02 64.41 L748.51 64.5 L750.01 64.59 L751.51 64.68 L753.01 64.77 L754.5 64.86 L756 64.95 L757.5 65.04 L759 65.13 L760.49 65.22 L761.99 65.31 L763.49 65.4 L764.99 65.49 L766.49 65.58 L767.98 65.66 L769.48 65.75 L770.98 65.84 L772.48 65.93 L773.97 66.01 L775.47 66.1 L776.97 66.19 L778.47 66.27 L779.97 66.36 L781.46 66.44 L782.96 66.52 L784.46 66.61 L785.96 66.69 L787.46 66.77 L788.95 66.85 L790.45 66.93 L791.95 67 L793.45 67.08 L794.95 67.16 L796.45 67.23 L797.94 67.3 L799.44 67.37 L800.94 67.44 L802.44 67.51 L803.94 67.58 L805.44 67.64 L806.94 67.71 L808.44 67.77 L809.94 67.84 L811.43 67.9 L812.93 67.96 L814.43 68.02 L815.93 68.08 L817.43 68.14 L818.93 68.2 L820.43 68.26 L821.93 68.32 L823.43 68.37 L824.93 68.43 L826.43 68.49 L827.93 68.55 L829.42 68.6 L830.92 68.66 L832.42 68.71 L833.92 68.77 L835.42 68.83 L836.92 68.88 L838.42 68.94 L839.92 69 L841.42 69.05 L842.92 69.11 L844.42 69.17 L845.92 69.22 L847.42 69.28 L848.91 69.33 L850.41 69.39 L851.91 69.45 L853.41 69.5 L854.91 69.56 L856.41 69.61 L857.91 69.67 L859.41 69.72 L860.91 69.78 L862.41 69.83 L863.91 69.88 L865.41 69.94 L866.91 69.99 L868.41 70.04 L869.91 70.1 L871.4 70.15 L872.9 70.2 L874.4 70.26 L875.9 70.31 L877.4 70.36 L878.9 70.41 L880.4 70.46 L881.9 70.51 L883.4 70.57 L884.4 70.6" fill="none" stroke="#000000" stroke-width="1.35" stroke-linejoin="round" clip-path="url(#p4)" />
<path d="M702.1 199.7 v-2.5 M702.1 59.25 v2.5 M720.33 199.7 v-5 M720.33 59.25 v5 M738.56 199.7 v-2.5 M738.56 59.25 v2.5 M756.79 199.7 v-5 M756.79 59.25 v5 M775.02 199.7 v-2.5 M775.02 59.25 v2.5 M793.25 199.7 v-5 M793.25 59.25 v5 M811.48 199.7 v-2.5 M811.48 59.25 v2.5 M829.71 199.7 v-5 M829.71 59.25 v5 M847.94 199.7 v-2.5 M847.94 59.25 v2.5 M866.17 199.7 v-5 M866.17 59.25 v5 M884.4 199.7 v-2.5 M884.4 59.25 v2.5 M702.1 192.15 h5 M884.4 192.15 h-5 M702.1 173.12 h2.5 M884.4 173.12 h-2.5 M702.1 154.1 h5 M884.4 154.1 h-5 M702.1 135.07 h2.5 M884.4 135.07 h-2.5 M702.1 116.05 h5 M884.4 116.05 h-5 M702.1 97.03 h2.5 M884.4 97.03 h-2.5 M702.1 78 h5 M884.4 78 h-5" stroke="#1c1c1c" stroke-width="1.25" fill="none"/>
<path d="M701.4 59.25 H885.15" stroke="#1c1c1c" stroke-width="1.45" fill="none"/>
<path d="M701.4 199.7 H885.15" stroke="#1c1c1c" stroke-width="1.65" fill="none"/>
<path d="M702.1 58.55 V200.5" stroke="#1c1c1c" stroke-width="1.4" fill="none"/>
<path d="M884.4 58.55 V200.5" stroke="#1c1c1c" stroke-width="1.5" fill="none"/>
<text transform="translate(696.1 81.25) scale(0.98 1)" text-anchor="end">0</text>
<text transform="translate(696.1 119.3) scale(0.98 1)" text-anchor="end">-1</text>
<text transform="translate(696.1 157.35) scale(0.98 1)" text-anchor="end">-2</text>
<text transform="translate(696.1 195.4) scale(0.98 1)" text-anchor="end">-3</text>
<text transform="translate(721.63 213.1) scale(0.98 1)" text-anchor="middle">1.6</text>
<text transform="translate(758.09 213.1) scale(0.98 1)" text-anchor="middle">1.8</text>
<text transform="translate(794.55 213.1) scale(0.98 1)" text-anchor="middle">2</text>
<text transform="translate(831.01 213.1) scale(0.98 1)" text-anchor="middle">2.2</text>
<text transform="translate(867.47 213.1) scale(0.98 1)" text-anchor="middle">2.4</text>
<text transform="translate(790.55 227.5) scale(0.93 1)" text-anchor="middle" class="b" font-size="10.6">Photoelectron energy, eV</text>
<text transform="translate(857.8 135.3) scale(0.93 1)" text-anchor="middle" class="b" font-size="10.6">Ba 6s</text>
<text transform="translate(861 144.5) scale(0.98 1)" text-anchor="end">θ=10</text>
<line x1="866.2" y1="141.3" x2="872.8" y2="141.3" stroke="#262626" stroke-width="1.15"/>
<text transform="translate(861 154.3) scale(0.98 1)" text-anchor="end">15</text>
<line x1="866.2" y1="151.1" x2="872.8" y2="151.1" stroke="#ff8a8a" stroke-width="1"/>
<text transform="translate(861 164.1) scale(0.98 1)" text-anchor="end">30</text>
<line x1="866.2" y1="160.9" x2="872.8" y2="160.9" stroke="#5a5aff" stroke-width="0.9"/>
<circle cx="869.5" cy="160.9" r="0.9" fill="#0000ff"/>
<text transform="translate(861 173.7) scale(0.98 1)" text-anchor="end">45</text>
<line x1="866.2" y1="170.5" x2="872.8" y2="170.5" stroke="#40c840" stroke-width="0.7"/>
<circle cx="869.5" cy="170.5" r="0.6" fill="#14be14"/>
<text transform="translate(861 183.4) scale(0.98 1)" text-anchor="end">60</text>
<line x1="866.2" y1="180.2" x2="872.8" y2="180.2" stroke="#40f0f0" stroke-width="0.9"/>
<circle cx="869.5" cy="180.2" r="0.6" fill="#00e8e8"/>
<text transform="translate(861 193.2) scale(0.98 1)" text-anchor="end">75</text>
<line x1="866.2" y1="190" x2="872.8" y2="190" stroke="#777" stroke-width="0.7"/>
<circle cx="869.5" cy="190" r="0.6" fill="#333"/>
<text transform="translate(72.9 129.5) rotate(-90) scale(0.925 1)" text-anchor="middle" class="b" font-size="10.6">Time delay τ (fs)</text>
</svg>
</body>
</html>
